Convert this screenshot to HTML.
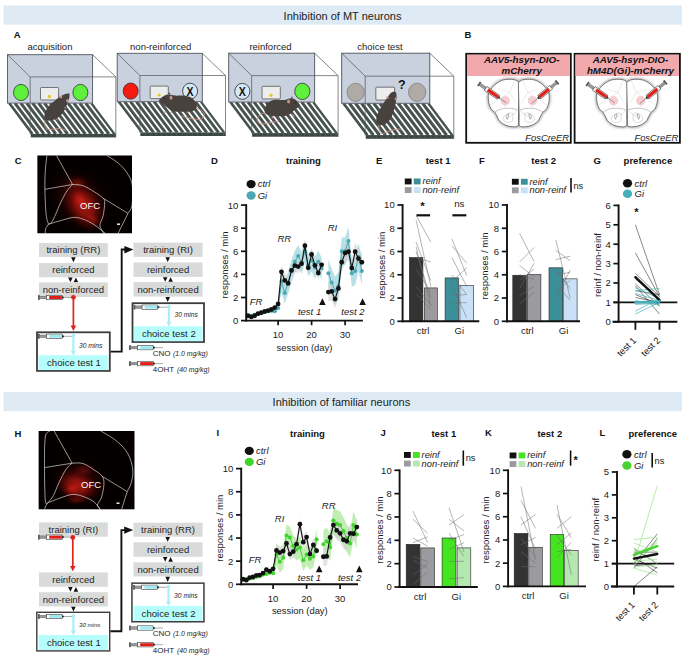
<!DOCTYPE html>
<html><head><meta charset="utf-8"><style>
html,body{margin:0;padding:0;background:#fff;}
svg{display:block;font-family:"Liberation Sans", sans-serif;}
</style></head><body>
<svg width="685" height="656" viewBox="0 0 685 656">
<rect x="0" y="0" width="685" height="656" fill="#fff"/>
<rect x="3.50" y="5.50" width="678.50" height="19.20" fill="#deebf5" stroke="none" stroke-width="1"/>
<text x="342.50" y="19.60" font-size="11" text-anchor="middle" fill="#222">Inhibition of MT neurons</text>
<rect x="3.50" y="392.00" width="678.50" height="19.20" fill="#deebf5" stroke="none" stroke-width="1"/>
<text x="341.40" y="405.80" font-size="11" text-anchor="middle" fill="#222">Inhibition of familiar neurons</text>
<text x="13.70" y="37.70" font-size="9.5" font-weight="bold" fill="#111">A</text>
<text x="464.40" y="37.80" font-size="9.5" font-weight="bold" fill="#111">B</text>
<text x="14.70" y="164.00" font-size="9.5" font-weight="bold" fill="#111">C</text>
<text x="211.10" y="164.10" font-size="9.5" font-weight="bold" fill="#111">D</text>
<text x="376.10" y="164.00" font-size="9.5" font-weight="bold" fill="#111">E</text>
<text x="478.90" y="164.00" font-size="9.5" font-weight="bold" fill="#111">F</text>
<text x="593.40" y="164.00" font-size="9.5" font-weight="bold" fill="#111">G</text>
<text x="14.60" y="436.60" font-size="9.5" font-weight="bold" fill="#111">H</text>
<text x="216.60" y="436.40" font-size="9.5" font-weight="bold" fill="#111">I</text>
<text x="380.60" y="436.40" font-size="9.5" font-weight="bold" fill="#111">J</text>
<text x="484.90" y="436.40" font-size="9.5" font-weight="bold" fill="#111">K</text>
<text x="599.60" y="436.40" font-size="9.5" font-weight="bold" fill="#111">L</text>
<text x="303.40" y="164.10" font-size="9.5" text-anchor="middle" font-weight="bold" fill="#111">training</text>
<text x="438.10" y="164.00" font-size="9.5" text-anchor="middle" font-weight="bold" fill="#111">test 1</text>
<text x="543.70" y="164.00" font-size="9.5" text-anchor="middle" font-weight="bold" fill="#111">test 2</text>
<text x="647.90" y="164.00" font-size="9.5" text-anchor="middle" font-weight="bold" fill="#111">preference</text>
<text x="307.50" y="436.70" font-size="9.5" text-anchor="middle" font-weight="bold" fill="#111">training</text>
<text x="443.80" y="436.70" font-size="9.5" text-anchor="middle" font-weight="bold" fill="#111">test 1</text>
<text x="549.80" y="436.70" font-size="9.5" text-anchor="middle" font-weight="bold" fill="#111">test 2</text>
<text x="652.80" y="436.70" font-size="9.5" text-anchor="middle" font-weight="bold" fill="#111">preference</text>
<g transform="translate(7.5,54.7) scale(1.0)"><clipPath id="fl7"><path d="M0,48.4 L85.1,48.4 L108.3,79.3 L23.2,79.3 Z"/></clipPath><g clip-path="url(#fl7)"><rect x="0" y="48" width="110" height="32" fill="#fff"/><path d="M-33.90,48.4 L-10.70,79.3 M-28.00,48.4 L-4.80,79.3 M-22.10,48.4 L1.10,79.3 M-16.20,48.4 L7.00,79.3 M-10.30,48.4 L12.90,79.3 M-4.40,48.4 L18.80,79.3 M1.50,48.4 L24.70,79.3 M7.40,48.4 L30.60,79.3 M13.30,48.4 L36.50,79.3 M19.20,48.4 L42.40,79.3 M25.10,48.4 L48.30,79.3 M31.00,48.4 L54.20,79.3 M36.90,48.4 L60.10,79.3 M42.80,48.4 L66.00,79.3 M48.70,48.4 L71.90,79.3 M54.60,48.4 L77.80,79.3 M60.50,48.4 L83.70,79.3 M66.40,48.4 L89.60,79.3 M72.30,48.4 L95.50,79.3 M78.20,48.4 L101.40,79.3 M84.10,48.4 L107.30,79.3 M90.00,48.4 L113.20,79.3 M95.90,48.4 L119.10,79.3 M101.80,48.4 L125.00,79.3 M107.70,48.4 L130.90,79.3 M113.60,48.4 L136.80,79.3 M119.50,48.4 L142.70,79.3 M125.40,48.4 L148.60,79.3" stroke="#47534f" stroke-width="3.0" fill="none"/></g><rect x="23.2" y="79.1" width="85.1" height="3.6" fill="#3a4642"/><path d="M28.40,79.3 v3.2 M33.60,79.3 v3.2 M38.80,79.3 v3.2 M44.00,79.3 v3.2 M49.20,79.3 v3.2 M54.40,79.3 v3.2 M59.60,79.3 v3.2 M64.80,79.3 v3.2 M70.00,79.3 v3.2 M75.20,79.3 v3.2 M80.40,79.3 v3.2 M85.60,79.3 v3.2 M90.80,79.3 v3.2 M96.00,79.3 v3.2 M101.20,79.3 v3.2 M106.40,79.3 v3.2" stroke="#5c6864" stroke-width="0.6"/><rect x="0" y="0" width="85.1" height="48.4" fill="#c9d0de" stroke="#50555f" stroke-width="0.9"/><path d="M0,0 L22.7,22.2 L108.3,22.2 M85.1,0 L108.3,22.2 L108.3,82.7 M22.7,22.2 L22.7,79.3" fill="none" stroke="#50555f" stroke-width="0.7"/><ellipse cx="13.5" cy="37.8" rx="7.5" ry="8.1" fill="#5ef03c" stroke="#2a3a2a" stroke-width="0.8"/><ellipse cx="72.9" cy="37.8" rx="7.5" ry="8.1" fill="#5ef03c" stroke="#2a3a2a" stroke-width="0.8"/><rect x="33" y="32.8" width="18.1" height="12.5" rx="0.8" fill="#ededed" stroke="#666" stroke-width="0.9"/><circle cx="41.9" cy="41.7" r="1.6" fill="#e6c51c"/></g>
<g transform="translate(117.2,53.3) scale(1.0)"><clipPath id="fl117"><path d="M0,48.4 L85.1,48.4 L108.3,79.3 L23.2,79.3 Z"/></clipPath><g clip-path="url(#fl117)"><rect x="0" y="48" width="110" height="32" fill="#fff"/><path d="M-33.90,48.4 L-10.70,79.3 M-28.00,48.4 L-4.80,79.3 M-22.10,48.4 L1.10,79.3 M-16.20,48.4 L7.00,79.3 M-10.30,48.4 L12.90,79.3 M-4.40,48.4 L18.80,79.3 M1.50,48.4 L24.70,79.3 M7.40,48.4 L30.60,79.3 M13.30,48.4 L36.50,79.3 M19.20,48.4 L42.40,79.3 M25.10,48.4 L48.30,79.3 M31.00,48.4 L54.20,79.3 M36.90,48.4 L60.10,79.3 M42.80,48.4 L66.00,79.3 M48.70,48.4 L71.90,79.3 M54.60,48.4 L77.80,79.3 M60.50,48.4 L83.70,79.3 M66.40,48.4 L89.60,79.3 M72.30,48.4 L95.50,79.3 M78.20,48.4 L101.40,79.3 M84.10,48.4 L107.30,79.3 M90.00,48.4 L113.20,79.3 M95.90,48.4 L119.10,79.3 M101.80,48.4 L125.00,79.3 M107.70,48.4 L130.90,79.3 M113.60,48.4 L136.80,79.3 M119.50,48.4 L142.70,79.3 M125.40,48.4 L148.60,79.3" stroke="#47534f" stroke-width="3.0" fill="none"/></g><rect x="23.2" y="79.1" width="85.1" height="3.6" fill="#3a4642"/><path d="M28.40,79.3 v3.2 M33.60,79.3 v3.2 M38.80,79.3 v3.2 M44.00,79.3 v3.2 M49.20,79.3 v3.2 M54.40,79.3 v3.2 M59.60,79.3 v3.2 M64.80,79.3 v3.2 M70.00,79.3 v3.2 M75.20,79.3 v3.2 M80.40,79.3 v3.2 M85.60,79.3 v3.2 M90.80,79.3 v3.2 M96.00,79.3 v3.2 M101.20,79.3 v3.2 M106.40,79.3 v3.2" stroke="#5c6864" stroke-width="0.6"/><rect x="0" y="0" width="85.1" height="48.4" fill="#c9d0de" stroke="#50555f" stroke-width="0.9"/><path d="M0,0 L22.7,22.2 L108.3,22.2 M85.1,0 L108.3,22.2 L108.3,82.7 M22.7,22.2 L22.7,79.3" fill="none" stroke="#50555f" stroke-width="0.7"/><ellipse cx="13.5" cy="37.8" rx="7.5" ry="8.1" fill="#f41c10" stroke="#3a2a2a" stroke-width="0.8"/><ellipse cx="72.9" cy="37.8" rx="7.5" ry="7.8999999999999995" fill="#d6e9f8" stroke="#2a2a2a" stroke-width="0.8"/><text x="0" y="0" font-size="13.5" font-weight="bold" text-anchor="middle" fill="#111" transform="translate(72.9,42.699999999999996) scale(0.78,1)">X</text><rect x="33" y="32.8" width="18.1" height="12.5" rx="0.8" fill="#ededed" stroke="#666" stroke-width="0.9"/><circle cx="41.9" cy="41.7" r="1.6" fill="#e6c51c"/></g>
<g transform="translate(228.7,53.2) scale(1.01)"><clipPath id="fl228"><path d="M0,48.4 L85.1,48.4 L108.3,79.3 L23.2,79.3 Z"/></clipPath><g clip-path="url(#fl228)"><rect x="0" y="48" width="110" height="32" fill="#fff"/><path d="M-33.90,48.4 L-10.70,79.3 M-28.00,48.4 L-4.80,79.3 M-22.10,48.4 L1.10,79.3 M-16.20,48.4 L7.00,79.3 M-10.30,48.4 L12.90,79.3 M-4.40,48.4 L18.80,79.3 M1.50,48.4 L24.70,79.3 M7.40,48.4 L30.60,79.3 M13.30,48.4 L36.50,79.3 M19.20,48.4 L42.40,79.3 M25.10,48.4 L48.30,79.3 M31.00,48.4 L54.20,79.3 M36.90,48.4 L60.10,79.3 M42.80,48.4 L66.00,79.3 M48.70,48.4 L71.90,79.3 M54.60,48.4 L77.80,79.3 M60.50,48.4 L83.70,79.3 M66.40,48.4 L89.60,79.3 M72.30,48.4 L95.50,79.3 M78.20,48.4 L101.40,79.3 M84.10,48.4 L107.30,79.3 M90.00,48.4 L113.20,79.3 M95.90,48.4 L119.10,79.3 M101.80,48.4 L125.00,79.3 M107.70,48.4 L130.90,79.3 M113.60,48.4 L136.80,79.3 M119.50,48.4 L142.70,79.3 M125.40,48.4 L148.60,79.3" stroke="#47534f" stroke-width="3.0" fill="none"/></g><rect x="23.2" y="79.1" width="85.1" height="3.6" fill="#3a4642"/><path d="M28.40,79.3 v3.2 M33.60,79.3 v3.2 M38.80,79.3 v3.2 M44.00,79.3 v3.2 M49.20,79.3 v3.2 M54.40,79.3 v3.2 M59.60,79.3 v3.2 M64.80,79.3 v3.2 M70.00,79.3 v3.2 M75.20,79.3 v3.2 M80.40,79.3 v3.2 M85.60,79.3 v3.2 M90.80,79.3 v3.2 M96.00,79.3 v3.2 M101.20,79.3 v3.2 M106.40,79.3 v3.2" stroke="#5c6864" stroke-width="0.6"/><rect x="0" y="0" width="85.1" height="48.4" fill="#c9d0de" stroke="#50555f" stroke-width="0.9"/><path d="M0,0 L22.7,22.2 L108.3,22.2 M85.1,0 L108.3,22.2 L108.3,82.7 M22.7,22.2 L22.7,79.3" fill="none" stroke="#50555f" stroke-width="0.7"/><ellipse cx="13.5" cy="37.8" rx="7.5" ry="7.8999999999999995" fill="#d6e9f8" stroke="#2a2a2a" stroke-width="0.8"/><text x="0" y="0" font-size="13.5" font-weight="bold" text-anchor="middle" fill="#111" transform="translate(13.5,42.699999999999996) scale(0.78,1)">X</text><ellipse cx="72.9" cy="37.8" rx="7.5" ry="8.1" fill="#5ef03c" stroke="#2a3a2a" stroke-width="0.8"/><rect x="33" y="32.8" width="18.1" height="12.5" rx="0.8" fill="#ededed" stroke="#666" stroke-width="0.9"/><circle cx="41.9" cy="41.7" r="1.6" fill="#e6c51c"/></g>
<g transform="translate(341.7,53.2) scale(1.035)"><clipPath id="fl341"><path d="M0,48.4 L85.1,48.4 L108.3,79.3 L23.2,79.3 Z"/></clipPath><g clip-path="url(#fl341)"><rect x="0" y="48" width="110" height="32" fill="#fff"/><path d="M-33.90,48.4 L-10.70,79.3 M-28.00,48.4 L-4.80,79.3 M-22.10,48.4 L1.10,79.3 M-16.20,48.4 L7.00,79.3 M-10.30,48.4 L12.90,79.3 M-4.40,48.4 L18.80,79.3 M1.50,48.4 L24.70,79.3 M7.40,48.4 L30.60,79.3 M13.30,48.4 L36.50,79.3 M19.20,48.4 L42.40,79.3 M25.10,48.4 L48.30,79.3 M31.00,48.4 L54.20,79.3 M36.90,48.4 L60.10,79.3 M42.80,48.4 L66.00,79.3 M48.70,48.4 L71.90,79.3 M54.60,48.4 L77.80,79.3 M60.50,48.4 L83.70,79.3 M66.40,48.4 L89.60,79.3 M72.30,48.4 L95.50,79.3 M78.20,48.4 L101.40,79.3 M84.10,48.4 L107.30,79.3 M90.00,48.4 L113.20,79.3 M95.90,48.4 L119.10,79.3 M101.80,48.4 L125.00,79.3 M107.70,48.4 L130.90,79.3 M113.60,48.4 L136.80,79.3 M119.50,48.4 L142.70,79.3 M125.40,48.4 L148.60,79.3" stroke="#47534f" stroke-width="3.0" fill="none"/></g><rect x="23.2" y="79.1" width="85.1" height="3.6" fill="#3a4642"/><path d="M28.40,79.3 v3.2 M33.60,79.3 v3.2 M38.80,79.3 v3.2 M44.00,79.3 v3.2 M49.20,79.3 v3.2 M54.40,79.3 v3.2 M59.60,79.3 v3.2 M64.80,79.3 v3.2 M70.00,79.3 v3.2 M75.20,79.3 v3.2 M80.40,79.3 v3.2 M85.60,79.3 v3.2 M90.80,79.3 v3.2 M96.00,79.3 v3.2 M101.20,79.3 v3.2 M106.40,79.3 v3.2" stroke="#5c6864" stroke-width="0.6"/><rect x="0" y="0" width="85.1" height="48.4" fill="#c9d0de" stroke="#50555f" stroke-width="0.9"/><path d="M0,0 L22.7,22.2 L108.3,22.2 M85.1,0 L108.3,22.2 L108.3,82.7 M22.7,22.2 L22.7,79.3" fill="none" stroke="#50555f" stroke-width="0.7"/><ellipse cx="13.5" cy="37.8" rx="8.4" ry="8.8" fill="#b0aaa6" stroke="#7f7a77" stroke-width="0.7"/><ellipse cx="72.9" cy="37.8" rx="8.4" ry="8.8" fill="#b0aaa6" stroke="#7f7a77" stroke-width="0.7"/><rect x="33" y="32.8" width="18.1" height="12.5" rx="0.8" fill="#ededed" stroke="#666" stroke-width="0.9"/></g>
<path d="M44.80,120.30 C44.85,121.32 44.75,124.92 45.10,126.40 C45.45,127.88 45.47,128.73 46.90,129.20 C48.33,129.67 51.42,129.32 53.70,129.20 C55.98,129.08 58.53,128.27 60.60,128.50 C62.67,128.73 65.18,130.25 66.10,130.60 " fill="none" stroke="#c99088" stroke-width="0.9"/><path d="M69.50,93.50 C68.93,93.55 67.58,93.35 66.10,93.80 C64.62,94.25 62.43,95.10 60.60,96.20 C58.77,97.30 56.82,99.02 55.10,100.40 C53.38,101.78 51.78,102.90 50.30,104.50 C48.82,106.10 47.17,108.28 46.20,110.00 C45.23,111.72 44.73,113.32 44.50,114.80 C44.27,116.28 44.40,117.93 44.80,118.90 C45.20,119.87 45.75,120.37 46.90,120.60 C48.05,120.83 49.98,120.70 51.70,120.30 C53.42,119.90 55.48,119.23 57.20,118.20 C58.92,117.17 60.63,115.70 62.00,114.10 C63.37,112.50 64.48,110.43 65.40,108.60 C66.32,106.77 66.87,104.82 67.50,103.10 C68.13,101.38 68.87,99.90 69.20,98.30 C69.53,96.70 69.45,94.30 69.50,93.50 Z" fill="#48423f"/><ellipse cx="60.8" cy="97" rx="1.5" ry="1.2" fill="#c99088"/><ellipse cx="67.3" cy="100.6" rx="1.2" ry="1.6" fill="#c99088"/><path d="M56,118.5 l1.5,1.8 M64.5,107.5 l1.8,0.6" stroke="#c99088" stroke-width="1"/><path d="M196.00,107.50 C197.20,108.27 201.87,110.67 203.20,112.10 C204.53,113.53 204.53,114.90 204.00,116.10 C203.47,117.30 202.15,118.90 200.00,119.30 C197.85,119.70 194.32,119.03 191.10,118.50 C187.88,117.97 182.43,116.50 180.70,116.10 " fill="none" stroke="#c99088" stroke-width="0.9"/><path d="M166,111 l-2.5,2.5 M172,111.5 l-1.5,2 M187,111.5 l2,2.2" stroke="#c99088" stroke-width="1.1"/><path d="M159.00,100.00 C159.67,99.40 161.50,97.32 163.00,96.40 C164.50,95.48 165.98,94.63 168.00,94.50 C170.02,94.37 172.58,95.42 175.10,95.60 C177.62,95.78 180.43,95.27 183.10,95.60 C185.77,95.93 189.08,96.58 191.10,97.60 C193.12,98.62 194.25,100.35 195.20,101.70 C196.15,103.05 196.80,104.37 196.80,105.70 C196.80,107.03 196.55,108.70 195.20,109.70 C193.85,110.70 191.38,111.37 188.70,111.70 C186.02,112.03 181.77,111.77 179.10,111.70 C176.43,111.63 174.57,111.90 172.70,111.30 C170.83,110.70 169.52,109.30 167.90,108.10 C166.28,106.90 164.48,105.30 163.00,104.10 C161.52,102.90 159.67,101.58 159.00,100.90 C158.33,100.22 159.00,100.15 159.00,100.00 Z" fill="#48423f"/><path d="M168,93.2 l1.8,-0.8 l0.6,2.5 Z" fill="#48423f"/><ellipse cx="171" cy="97.8" rx="1.5" ry="2" fill="#c99088"/><circle cx="164.6" cy="98.4" r="0.6" fill="#111"/><path d="M264.50,112.40 C263.65,112.90 260.62,114.05 259.40,115.40 C258.18,116.75 256.97,119.05 257.20,120.50 C257.43,121.95 258.73,123.73 260.80,124.10 C262.87,124.47 266.55,123.18 269.60,122.70 C272.65,122.22 277.52,121.45 279.10,121.20 " fill="none" stroke="#c99088" stroke-width="0.9"/><path d="M273,116 l-1,2.5 M292,114 l2.5,3" stroke="#c99088" stroke-width="1.1"/><path d="M299.90,105.10 C299.23,104.25 297.42,101.15 295.90,100.00 C294.38,98.85 292.75,98.20 290.80,98.20 C288.85,98.20 286.52,99.75 284.20,100.00 C281.88,100.25 279.08,99.57 276.90,99.70 C274.72,99.83 272.80,100.02 271.10,100.80 C269.40,101.58 267.80,102.95 266.70,104.40 C265.60,105.85 264.62,107.92 264.50,109.50 C264.38,111.08 264.55,112.80 266.00,113.90 C267.45,115.00 270.17,115.73 273.20,116.10 C276.23,116.47 281.40,116.47 284.20,116.10 C287.00,115.73 288.05,115.12 290.00,113.90 C291.95,112.68 294.25,110.13 295.90,108.80 C297.55,107.47 299.23,106.52 299.90,105.90 C300.57,105.28 299.90,105.23 299.90,105.10 Z" fill="#48423f"/><path d="M290.8,97 l1.5,-0.5 l0.5,2.4 Z" fill="#48423f"/><ellipse cx="288.6" cy="101.5" rx="1.5" ry="2" fill="#c99088"/><circle cx="295" cy="102.8" r="0.6" fill="#111"/><path d="M378.70,124.90 C378.78,125.73 378.67,128.45 379.20,129.90 C379.73,131.35 380.08,133.45 381.90,133.60 C383.72,133.75 387.50,131.57 390.10,130.80 C392.70,130.03 395.52,129.15 397.50,129.00 C399.48,128.85 401.25,129.75 402.00,129.90 " fill="none" stroke="#c99088" stroke-width="0.9"/><path d="M394.30,91.50 C393.77,91.72 392.25,91.82 391.10,92.80 C389.95,93.78 388.78,95.48 387.40,97.40 C386.02,99.32 384.25,101.93 382.80,104.30 C381.35,106.67 379.77,109.32 378.70,111.60 C377.63,113.88 376.70,116.02 376.40,118.00 C376.10,119.98 376.28,122.28 376.90,123.50 C377.52,124.72 378.82,125.15 380.10,125.30 C381.38,125.45 383.08,125.15 384.60,124.40 C386.12,123.65 387.82,122.63 389.20,120.80 C390.58,118.97 391.90,116.00 392.90,113.40 C393.90,110.80 394.60,107.78 395.20,105.20 C395.80,102.62 396.35,99.97 396.50,97.90 C396.65,95.83 396.47,93.87 396.10,92.80 C395.73,91.73 394.60,91.72 394.30,91.50 Z" fill="#48423f"/><ellipse cx="387.6" cy="97.6" rx="1.3" ry="1.2" fill="#c99088"/><ellipse cx="395.6" cy="99" rx="1" ry="1.4" fill="#c99088"/><text x="398" y="89.2" font-size="12.5" font-weight="bold" fill="#111">?</text>
<text x="50.00" y="49.50" font-size="9.5" text-anchor="middle" fill="#222">acquisition</text>
<text x="160.70" y="49.50" font-size="9.5" text-anchor="middle" fill="#222">non-reinforced</text>
<text x="270.50" y="49.50" font-size="9.5" text-anchor="middle" fill="#222">reinforced</text>
<text x="380.00" y="49.50" font-size="9.5" text-anchor="middle" fill="#222">choice test</text>
<rect x="466.20" y="53.80" width="104.60" height="89.00" fill="#fff" stroke="#111" stroke-width="1.8"/>
<rect x="467.10" y="54.70" width="102.80" height="21.30" fill="#f1a9ad" stroke="none" stroke-width="1"/>
<text x="521.70" y="62.80" font-size="9.8" text-anchor="middle" font-weight="bold" font-style="italic" fill="#111">AAV5-hsyn-DIO-</text>
<text x="521.70" y="73.60" font-size="9.8" text-anchor="middle" font-weight="bold" font-style="italic" fill="#111">mCherry</text>
<path d="M519.20,82.60 C518.47,82.13 516.65,80.35 514.80,79.80 C512.95,79.25 510.43,79.13 508.10,79.30 C505.77,79.47 503.18,79.72 500.80,80.80 C498.42,81.88 495.77,83.85 493.80,85.80 C491.83,87.75 489.92,90.42 489.00,92.50 C488.08,94.58 488.28,96.37 488.30,98.30 C488.32,100.23 488.60,102.27 489.10,104.10 C489.60,105.93 490.35,107.93 491.30,109.30 C492.25,110.67 493.80,111.05 494.80,112.30 C495.80,113.55 496.47,115.30 497.30,116.80 C498.13,118.30 498.38,119.88 499.80,121.30 C501.22,122.72 503.63,124.38 505.80,125.30 C507.97,126.22 510.77,126.72 512.80,126.80 C514.83,126.88 517.07,127.05 518.00,125.80 C518.93,124.55 518.33,120.38 518.40,119.30 Z" fill="none" stroke="#999" stroke-width="3" filter="url(#blur1)" opacity="0.7"/><path d="M518.40,82.60 C519.13,82.13 520.95,80.35 522.80,79.80 C524.65,79.25 527.17,79.13 529.50,79.30 C531.83,79.47 534.42,79.72 536.80,80.80 C539.18,81.88 541.83,83.85 543.80,85.80 C545.77,87.75 547.68,90.42 548.60,92.50 C549.52,94.58 549.32,96.37 549.30,98.30 C549.28,100.23 549.00,102.27 548.50,104.10 C548.00,105.93 547.25,107.93 546.30,109.30 C545.35,110.67 543.80,111.05 542.80,112.30 C541.80,113.55 541.13,115.30 540.30,116.80 C539.47,118.30 539.22,119.88 537.80,121.30 C536.38,122.72 533.97,124.38 531.80,125.30 C529.63,126.22 526.83,126.72 524.80,126.80 C522.77,126.88 520.53,127.05 519.60,125.80 C518.67,124.55 519.27,120.38 519.20,119.30 Z" fill="none" stroke="#999" stroke-width="3" filter="url(#blur1)" opacity="0.7"/><path d="M519.20,82.60 C518.47,82.13 516.65,80.35 514.80,79.80 C512.95,79.25 510.43,79.13 508.10,79.30 C505.77,79.47 503.18,79.72 500.80,80.80 C498.42,81.88 495.77,83.85 493.80,85.80 C491.83,87.75 489.92,90.42 489.00,92.50 C488.08,94.58 488.28,96.37 488.30,98.30 C488.32,100.23 488.60,102.27 489.10,104.10 C489.60,105.93 490.35,107.93 491.30,109.30 C492.25,110.67 493.80,111.05 494.80,112.30 C495.80,113.55 496.47,115.30 497.30,116.80 C498.13,118.30 498.38,119.88 499.80,121.30 C501.22,122.72 503.63,124.38 505.80,125.30 C507.97,126.22 510.77,126.72 512.80,126.80 C514.83,126.88 517.07,127.05 518.00,125.80 C518.93,124.55 518.33,120.38 518.40,119.30 Z" fill="#fff" stroke="#5a5a5a" stroke-width="0.8"/><path d="M517.30,109.80 C510.80,107.30 500.80,107.30 494.80,112.30" fill="none" stroke="#888" stroke-width="0.5"/><path d="M517.30,109.80 C515.80,113.30 512.80,115.30 506.80,117.30" fill="none" stroke="#bbb" stroke-width="0.4"/><path d="M514.80,80.30 L509.80,92.30 L515.80,103.30 M509.80,92.30 L498.80,89.30 M509.80,92.30 L494.80,102.30 M504.80,107.30 L506.80,99.30 M494.80,102.30 L489.80,105.30" fill="none" stroke="#ccc" stroke-width="0.4"/><path d="M512.80,113.30 C508.80,112.30 503.80,114.30 502.80,119.30 C504.80,123.30 510.80,123.30 512.80,120.30 Z" fill="none" stroke="#aaa" stroke-width="0.4"/><path d="M508.80,113.80 C505.80,114.30 505.80,117.30 507.30,119.30 L508.30,116.30 Z" fill="#fff" stroke="#666" stroke-width="0.5"/><circle cx="505.20" cy="100.80" r="4.7" fill="#f4c4c8" opacity="0.85"/><path d="M518.40,82.60 C519.13,82.13 520.95,80.35 522.80,79.80 C524.65,79.25 527.17,79.13 529.50,79.30 C531.83,79.47 534.42,79.72 536.80,80.80 C539.18,81.88 541.83,83.85 543.80,85.80 C545.77,87.75 547.68,90.42 548.60,92.50 C549.52,94.58 549.32,96.37 549.30,98.30 C549.28,100.23 549.00,102.27 548.50,104.10 C548.00,105.93 547.25,107.93 546.30,109.30 C545.35,110.67 543.80,111.05 542.80,112.30 C541.80,113.55 541.13,115.30 540.30,116.80 C539.47,118.30 539.22,119.88 537.80,121.30 C536.38,122.72 533.97,124.38 531.80,125.30 C529.63,126.22 526.83,126.72 524.80,126.80 C522.77,126.88 520.53,127.05 519.60,125.80 C518.67,124.55 519.27,120.38 519.20,119.30 Z" fill="#fff" stroke="#5a5a5a" stroke-width="0.8"/><path d="M520.30,109.80 C526.80,107.30 536.80,107.30 542.80,112.30" fill="none" stroke="#888" stroke-width="0.5"/><path d="M520.30,109.80 C521.80,113.30 524.80,115.30 530.80,117.30" fill="none" stroke="#bbb" stroke-width="0.4"/><path d="M522.80,80.30 L527.80,92.30 L521.80,103.30 M527.80,92.30 L538.80,89.30 M527.80,92.30 L542.80,102.30 M532.80,107.30 L530.80,99.30 M542.80,102.30 L547.80,105.30" fill="none" stroke="#ccc" stroke-width="0.4"/><path d="M524.80,113.30 C528.80,112.30 533.80,114.30 534.80,119.30 C532.80,123.30 526.80,123.30 524.80,120.30 Z" fill="none" stroke="#aaa" stroke-width="0.4"/><path d="M528.80,113.80 C531.80,114.30 531.80,117.30 530.30,119.30 L529.30,116.30 Z" fill="#fff" stroke="#666" stroke-width="0.5"/><circle cx="532.40" cy="100.80" r="4.7" fill="#f4c4c8" opacity="0.85"/>
<g transform="translate(478.50,83.50) rotate(34.80) scale(1.0)"><rect x="0" y="-2.52" width="1.8" height="5.04" fill="#5a5a5a"/><rect x="1.8" y="-1.37" width="6.8" height="2.73" fill="#9a9a9a" stroke="#555" stroke-width="0.4"/><rect x="8.6" y="-2.31" width="15.4" height="4.62" fill="#fff" stroke="#3a3a3a" stroke-width="0.6"/><rect x="11.2" y="-1.58" width="12.6" height="3.15" fill="#e01e17"/><path d="M24,-1.68 L26,-0.63 L26,0.63 L24,1.68 Z" fill="#3a3a3a"/><line x1="26" y1="0" x2="34" y2="0" stroke="#555" stroke-width="0.5"/></g>
<g transform="translate(557.70,81.80) rotate(140.30) scale(1.0)"><rect x="0" y="-2.52" width="1.8" height="5.04" fill="#5a5a5a"/><rect x="1.8" y="-1.37" width="6.8" height="2.73" fill="#9a9a9a" stroke="#555" stroke-width="0.4"/><rect x="8.6" y="-2.31" width="15.4" height="4.62" fill="#fff" stroke="#3a3a3a" stroke-width="0.6"/><rect x="11.2" y="-1.58" width="12.6" height="3.15" fill="#e01e17"/><path d="M24,-1.68 L26,-0.63 L26,0.63 L24,1.68 Z" fill="#3a3a3a"/><line x1="26" y1="0" x2="34" y2="0" stroke="#555" stroke-width="0.5"/></g>
<text x="569.10" y="140.50" font-size="9.4" text-anchor="end" font-style="italic" fill="#222">FosCreER</text>
<rect x="574.60" y="53.80" width="105.30" height="89.00" fill="#fff" stroke="#111" stroke-width="1.8"/>
<rect x="575.50" y="54.70" width="103.50" height="21.30" fill="#f1a9ad" stroke="none" stroke-width="1"/>
<text x="630.45" y="62.80" font-size="9.8" text-anchor="middle" font-weight="bold" font-style="italic" fill="#111">AAV5-hsyn-DIO-</text>
<text x="630.45" y="73.60" font-size="9.8" text-anchor="middle" font-weight="bold" font-style="italic" fill="#111">hM4D(Gi)-mCherry</text>
<path d="M627.50,82.60 C626.77,82.13 624.95,80.35 623.10,79.80 C621.25,79.25 618.73,79.13 616.40,79.30 C614.07,79.47 611.48,79.72 609.10,80.80 C606.72,81.88 604.07,83.85 602.10,85.80 C600.13,87.75 598.22,90.42 597.30,92.50 C596.38,94.58 596.58,96.37 596.60,98.30 C596.62,100.23 596.90,102.27 597.40,104.10 C597.90,105.93 598.65,107.93 599.60,109.30 C600.55,110.67 602.10,111.05 603.10,112.30 C604.10,113.55 604.77,115.30 605.60,116.80 C606.43,118.30 606.68,119.88 608.10,121.30 C609.52,122.72 611.93,124.38 614.10,125.30 C616.27,126.22 619.07,126.72 621.10,126.80 C623.13,126.88 625.37,127.05 626.30,125.80 C627.23,124.55 626.63,120.38 626.70,119.30 Z" fill="none" stroke="#999" stroke-width="3" filter="url(#blur1)" opacity="0.7"/><path d="M626.70,82.60 C627.43,82.13 629.25,80.35 631.10,79.80 C632.95,79.25 635.47,79.13 637.80,79.30 C640.13,79.47 642.72,79.72 645.10,80.80 C647.48,81.88 650.13,83.85 652.10,85.80 C654.07,87.75 655.98,90.42 656.90,92.50 C657.82,94.58 657.62,96.37 657.60,98.30 C657.58,100.23 657.30,102.27 656.80,104.10 C656.30,105.93 655.55,107.93 654.60,109.30 C653.65,110.67 652.10,111.05 651.10,112.30 C650.10,113.55 649.43,115.30 648.60,116.80 C647.77,118.30 647.52,119.88 646.10,121.30 C644.68,122.72 642.27,124.38 640.10,125.30 C637.93,126.22 635.13,126.72 633.10,126.80 C631.07,126.88 628.83,127.05 627.90,125.80 C626.97,124.55 627.57,120.38 627.50,119.30 Z" fill="none" stroke="#999" stroke-width="3" filter="url(#blur1)" opacity="0.7"/><path d="M627.50,82.60 C626.77,82.13 624.95,80.35 623.10,79.80 C621.25,79.25 618.73,79.13 616.40,79.30 C614.07,79.47 611.48,79.72 609.10,80.80 C606.72,81.88 604.07,83.85 602.10,85.80 C600.13,87.75 598.22,90.42 597.30,92.50 C596.38,94.58 596.58,96.37 596.60,98.30 C596.62,100.23 596.90,102.27 597.40,104.10 C597.90,105.93 598.65,107.93 599.60,109.30 C600.55,110.67 602.10,111.05 603.10,112.30 C604.10,113.55 604.77,115.30 605.60,116.80 C606.43,118.30 606.68,119.88 608.10,121.30 C609.52,122.72 611.93,124.38 614.10,125.30 C616.27,126.22 619.07,126.72 621.10,126.80 C623.13,126.88 625.37,127.05 626.30,125.80 C627.23,124.55 626.63,120.38 626.70,119.30 Z" fill="#fff" stroke="#5a5a5a" stroke-width="0.8"/><path d="M625.60,109.80 C619.10,107.30 609.10,107.30 603.10,112.30" fill="none" stroke="#888" stroke-width="0.5"/><path d="M625.60,109.80 C624.10,113.30 621.10,115.30 615.10,117.30" fill="none" stroke="#bbb" stroke-width="0.4"/><path d="M623.10,80.30 L618.10,92.30 L624.10,103.30 M618.10,92.30 L607.10,89.30 M618.10,92.30 L603.10,102.30 M613.10,107.30 L615.10,99.30 M603.10,102.30 L598.10,105.30" fill="none" stroke="#ccc" stroke-width="0.4"/><path d="M621.10,113.30 C617.10,112.30 612.10,114.30 611.10,119.30 C613.10,123.30 619.10,123.30 621.10,120.30 Z" fill="none" stroke="#aaa" stroke-width="0.4"/><path d="M617.10,113.80 C614.10,114.30 614.10,117.30 615.60,119.30 L616.60,116.30 Z" fill="#fff" stroke="#666" stroke-width="0.5"/><circle cx="613.50" cy="100.80" r="4.7" fill="#f4c4c8" opacity="0.85"/><path d="M626.70,82.60 C627.43,82.13 629.25,80.35 631.10,79.80 C632.95,79.25 635.47,79.13 637.80,79.30 C640.13,79.47 642.72,79.72 645.10,80.80 C647.48,81.88 650.13,83.85 652.10,85.80 C654.07,87.75 655.98,90.42 656.90,92.50 C657.82,94.58 657.62,96.37 657.60,98.30 C657.58,100.23 657.30,102.27 656.80,104.10 C656.30,105.93 655.55,107.93 654.60,109.30 C653.65,110.67 652.10,111.05 651.10,112.30 C650.10,113.55 649.43,115.30 648.60,116.80 C647.77,118.30 647.52,119.88 646.10,121.30 C644.68,122.72 642.27,124.38 640.10,125.30 C637.93,126.22 635.13,126.72 633.10,126.80 C631.07,126.88 628.83,127.05 627.90,125.80 C626.97,124.55 627.57,120.38 627.50,119.30 Z" fill="#fff" stroke="#5a5a5a" stroke-width="0.8"/><path d="M628.60,109.80 C635.10,107.30 645.10,107.30 651.10,112.30" fill="none" stroke="#888" stroke-width="0.5"/><path d="M628.60,109.80 C630.10,113.30 633.10,115.30 639.10,117.30" fill="none" stroke="#bbb" stroke-width="0.4"/><path d="M631.10,80.30 L636.10,92.30 L630.10,103.30 M636.10,92.30 L647.10,89.30 M636.10,92.30 L651.10,102.30 M641.10,107.30 L639.10,99.30 M651.10,102.30 L656.10,105.30" fill="none" stroke="#ccc" stroke-width="0.4"/><path d="M633.10,113.30 C637.10,112.30 642.10,114.30 643.10,119.30 C641.10,123.30 635.10,123.30 633.10,120.30 Z" fill="none" stroke="#aaa" stroke-width="0.4"/><path d="M637.10,113.80 C640.10,114.30 640.10,117.30 638.60,119.30 L637.60,116.30 Z" fill="#fff" stroke="#666" stroke-width="0.5"/><circle cx="640.70" cy="100.80" r="4.7" fill="#f4c4c8" opacity="0.85"/>
<g transform="translate(586.80,83.50) rotate(34.80) scale(1.0)"><rect x="0" y="-2.52" width="1.8" height="5.04" fill="#5a5a5a"/><rect x="1.8" y="-1.37" width="6.8" height="2.73" fill="#9a9a9a" stroke="#555" stroke-width="0.4"/><rect x="8.6" y="-2.31" width="15.4" height="4.62" fill="#fff" stroke="#3a3a3a" stroke-width="0.6"/><rect x="11.2" y="-1.58" width="12.6" height="3.15" fill="#e01e17"/><path d="M24,-1.68 L26,-0.63 L26,0.63 L24,1.68 Z" fill="#3a3a3a"/><line x1="26" y1="0" x2="34" y2="0" stroke="#555" stroke-width="0.5"/></g>
<g transform="translate(666.00,81.80) rotate(140.30) scale(1.0)"><rect x="0" y="-2.52" width="1.8" height="5.04" fill="#5a5a5a"/><rect x="1.8" y="-1.37" width="6.8" height="2.73" fill="#9a9a9a" stroke="#555" stroke-width="0.4"/><rect x="8.6" y="-2.31" width="15.4" height="4.62" fill="#fff" stroke="#3a3a3a" stroke-width="0.6"/><rect x="11.2" y="-1.58" width="12.6" height="3.15" fill="#e01e17"/><path d="M24,-1.68 L26,-0.63 L26,0.63 L24,1.68 Z" fill="#3a3a3a"/><line x1="26" y1="0" x2="34" y2="0" stroke="#555" stroke-width="0.5"/></g>
<text x="678.20" y="140.50" font-size="9.4" text-anchor="end" font-style="italic" fill="#222">FosCreER</text>
<defs><filter id="blur1" x="-20%" y="-20%" width="140%" height="140%"><feGaussianBlur stdDeviation="1.3"/></filter><radialGradient id="rg"><stop offset="0" stop-color="#e8261a" stop-opacity="0.9"/><stop offset="0.4" stop-color="#c41a10" stop-opacity="0.7"/><stop offset="0.75" stop-color="#7a0804" stop-opacity="0.35"/><stop offset="1" stop-color="#300000" stop-opacity="0"/></radialGradient></defs>
<clipPath id="clipC"><rect x="37.2" y="155.3" width="94.8" height="78.19999999999999"/></clipPath>
<g clip-path="url(#clipC)">
<rect x="37.20" y="155.30" width="94.80" height="78.20" fill="#050000" stroke="none" stroke-width="1"/>
<ellipse cx="80" cy="200" rx="36" ry="28" fill="url(#rg)" opacity="0.3" transform="rotate(50 80 200)"/>
<ellipse cx="84" cy="206" rx="29" ry="19" fill="url(#rg)" opacity="0.8" transform="rotate(59 84 206)"/>
<ellipse cx="80" cy="200" rx="15" ry="10" fill="url(#rg)" opacity="0.5" transform="rotate(59 80 200)"/>
<ellipse cx="77" cy="183" rx="12" ry="8" fill="url(#rg)" opacity="0.35" transform="rotate(0 77 183)"/>
<ellipse cx="92" cy="219" rx="11" ry="7" fill="url(#rg)" opacity="0.4" transform="rotate(40 92 219)"/>
<path d="M46.90,155.60 C46.63,158.15 45.63,165.28 45.30,170.90 C44.97,176.52 44.77,182.08 44.90,189.30 C45.03,196.52 45.50,208.38 46.10,214.20 C46.70,220.02 48.10,222.53 48.50,224.20 " fill="none" stroke="#e8e8e8" stroke-width="0.65"/>
<path d="M56.50,155.60 C59.18,160.42 69.92,179.68 72.60,184.50 " fill="none" stroke="#e8e8e8" stroke-width="0.65"/>
<path d="M44.90,189.30 C49.52,188.50 67.98,185.30 72.60,184.50 " fill="none" stroke="#e8e8e8" stroke-width="0.65"/>
<path d="M72.60,184.50 C74.33,184.70 79.40,184.48 83.00,185.70 C86.60,186.92 90.85,189.72 94.20,191.80 C97.55,193.88 101.35,196.33 103.10,198.20 C104.85,200.07 104.70,200.07 104.70,203.00 C104.70,205.93 103.90,212.05 103.10,215.80 C102.30,219.55 99.77,222.55 99.90,225.50 C100.03,228.45 103.23,232.17 103.90,233.50 " fill="none" stroke="#e8e8e8" stroke-width="0.65"/>
<path d="M72.60,184.50 C71.65,185.58 68.92,187.92 66.90,191.00 C64.88,194.08 62.37,199.13 60.50,203.00 C58.63,206.87 57.17,210.98 55.70,214.20 C54.23,217.42 52.90,220.63 51.70,222.30 C50.50,223.97 49.03,223.88 48.50,224.20 " fill="none" stroke="#e8e8e8" stroke-width="0.65"/>
<path d="M48.50,224.20 C50.50,223.62 56.35,221.83 60.50,220.70 C64.65,219.57 69.65,217.67 73.40,217.40 C77.15,217.13 79.53,217.88 83.00,219.10 C86.47,220.32 90.45,222.30 94.20,224.70 C97.95,227.10 103.62,232.03 105.50,233.50 " fill="none" stroke="#e8e8e8" stroke-width="0.65"/>
<path d="M103.10,198.20 C107.25,200.73 123.85,210.87 128.00,213.40 " fill="none" stroke="#e8e8e8" stroke-width="0.65"/>
<path d="M128.00,213.40 C126.33,216.75 119.67,230.15 118.00,233.50 " fill="none" stroke="#e8e8e8" stroke-width="0.65"/>
<path d="M107.10,155.60 C109.23,157.08 116.28,161.15 119.90,164.50 C123.52,167.85 126.70,171.95 128.80,175.70 C130.90,179.45 131.97,182.05 132.50,187.00 C133.03,191.95 132.75,201.00 132.00,205.40 C131.25,209.80 128.67,212.07 128.00,213.40 " fill="none" stroke="#e8e8e8" stroke-width="0.65"/>
<path d="M48.50,224.20 C48.03,224.95 46.23,227.15 45.70,228.70 C45.17,230.25 45.37,232.70 45.30,233.50 " fill="none" stroke="#e8e8e8" stroke-width="0.65"/>
</g>
<text x="80.10" y="209.40" font-size="9.5" fill="#fff">OFC</text>
<rect x="117.00" y="223.50" width="3.00" height="1.40" fill="#fff" stroke="none" stroke-width="1"/>
<clipPath id="clipH"><rect x="38.4" y="430.9" width="96.29999999999998" height="78.70000000000005"/></clipPath>
<g clip-path="url(#clipH)">
<rect x="38.40" y="430.90" width="96.30" height="78.70" fill="#050000" stroke="none" stroke-width="1"/>
<ellipse cx="80" cy="482" rx="31" ry="23" fill="url(#rg)" opacity="0.25" transform="rotate(20 80 482)"/>
<ellipse cx="77" cy="486" rx="23" ry="16.5" fill="url(#rg)" opacity="0.8" transform="rotate(15 77 486)"/>
<ellipse cx="72" cy="489" rx="10" ry="8" fill="url(#rg)" opacity="0.5" transform="rotate(0 72 489)"/>
<ellipse cx="84" cy="470" rx="13" ry="8" fill="url(#rg)" opacity="0.3" transform="rotate(0 84 470)"/>
<ellipse cx="76" cy="500" rx="12" ry="5" fill="url(#rg)" opacity="0.35" transform="rotate(0 76 500)"/>
<path d="M50.10,430.90 C49.30,431.92 46.23,430.88 45.30,437.00 C44.37,443.12 44.50,457.02 44.50,467.60 C44.50,478.18 44.77,494.62 45.30,500.50 C45.83,506.38 47.30,502.50 47.70,502.90 " fill="none" stroke="#e8e8e8" stroke-width="0.65"/>
<path d="M54.10,430.90 C57.10,436.28 69.10,457.82 72.10,463.20 " fill="none" stroke="#e8e8e8" stroke-width="0.65"/>
<path d="M44.50,467.60 C49.10,466.87 67.50,463.93 72.10,463.20 " fill="none" stroke="#e8e8e8" stroke-width="0.65"/>
<path d="M72.10,463.20 C73.92,463.25 79.32,462.37 83.00,463.50 C86.68,464.63 90.98,467.85 94.20,470.00 C97.42,472.15 100.68,474.00 102.30,476.40 C103.92,478.80 104.03,480.92 103.90,484.40 C103.77,487.88 102.58,493.82 101.50,497.30 C100.42,500.78 97.53,503.25 97.40,505.30 C97.27,507.35 100.15,508.88 100.70,509.60 " fill="none" stroke="#e8e8e8" stroke-width="0.65"/>
<path d="M72.10,463.20 C71.10,464.20 68.30,465.93 66.10,469.20 C63.90,472.47 61.03,478.38 58.90,482.80 C56.77,487.22 55.17,492.35 53.30,495.70 C51.43,499.05 48.63,501.70 47.70,502.90 " fill="none" stroke="#e8e8e8" stroke-width="0.65"/>
<path d="M47.70,502.90 C50.10,501.97 57.82,498.72 62.10,497.30 C66.38,495.88 69.65,494.45 73.40,494.40 C77.15,494.35 81.13,495.72 84.60,497.00 C88.07,498.28 91.52,500.00 94.20,502.10 C96.88,504.20 99.62,508.35 100.70,509.60 " fill="none" stroke="#e8e8e8" stroke-width="0.65"/>
<path d="M102.30,476.40 C106.45,478.93 123.05,489.07 127.20,491.60 " fill="none" stroke="#e8e8e8" stroke-width="0.65"/>
<path d="M127.20,491.60 C126.25,494.60 122.45,506.60 121.50,509.60 " fill="none" stroke="#e8e8e8" stroke-width="0.65"/>
<path d="M100.70,430.90 C103.37,432.60 112.15,437.27 116.70,441.10 C121.25,444.93 125.32,449.08 128.00,453.90 C130.68,458.72 132.27,465.18 132.80,470.00 C133.33,474.82 132.13,479.20 131.20,482.80 C130.27,486.40 127.87,490.13 127.20,491.60 " fill="none" stroke="#e8e8e8" stroke-width="0.65"/>
<path d="M47.70,502.90 C47.30,503.57 45.78,505.78 45.30,506.90 C44.82,508.02 44.88,509.15 44.80,509.60 " fill="none" stroke="#e8e8e8" stroke-width="0.65"/>
</g>
<text x="81.10" y="487.60" font-size="9.5" fill="#fff">OFC</text>
<rect x="116.50" y="502.50" width="3.00" height="1.40" fill="#fff" stroke="none" stroke-width="1"/>
<rect x="39.00" y="243.00" width="68.80" height="13.90" fill="#d9dbdb" stroke="none" stroke-width="1"/>
<text x="73.40" y="253.00" font-size="9.5" text-anchor="middle" fill="#222">training (RR)</text>
<path d="M71.10,257.20 L75.70,257.20 L73.40,262.30 Z" fill="#111"/>
<rect x="39.00" y="263.00" width="68.80" height="14.30" fill="#d9dbdb" stroke="none" stroke-width="1"/>
<text x="73.40" y="273.40" font-size="9.5" text-anchor="middle" fill="#222">reinforced</text>
<path d="M68.10,277.60 L72.70,277.60 L70.40,282.20 Z" fill="#111"/>
<path d="M73.60,282.20 L78.20,282.20 L75.90,277.60 Z" fill="#111"/>
<rect x="39.00" y="282.40" width="68.80" height="14.60" fill="#d9dbdb" stroke="none" stroke-width="1"/>
<text x="73.40" y="293.10" font-size="9.5" text-anchor="middle" fill="#222">non-reinforced</text>
<g transform="translate(38.00,297.50) rotate(0.00) scale(1.0)"><rect x="0" y="-2.40" width="1.8" height="4.80" fill="#5a5a5a"/><rect x="1.8" y="-1.30" width="6.8" height="2.60" fill="#9a9a9a" stroke="#555" stroke-width="0.4"/><rect x="8.6" y="-2.20" width="15.4" height="4.40" fill="#fff" stroke="#3a3a3a" stroke-width="0.6"/><rect x="11.2" y="-1.50" width="12.6" height="3.00" fill="#e01e17"/><path d="M24,-1.60 L26,-0.60 L26,0.60 L24,1.60 Z" fill="#3a3a3a"/><line x1="26" y1="0" x2="34" y2="0" stroke="#555" stroke-width="0.5"/></g>
<line x1="73.40" y1="297.50" x2="73.40" y2="327.50" stroke="#e2231a" stroke-width="1.7"/>
<path d="M70.6,325.5 L76.2,325.5 L73.4,331 Z" fill="#e2231a"/>
<circle cx="73.4" cy="297.3" r="2.4" fill="#e2231a"/>
<rect x="37.00" y="332.30" width="72.80" height="38.60" fill="#fff" stroke="#3c3c3c" stroke-width="1.8"/>
<rect x="38.50" y="355.20" width="69.80" height="14.90" fill="#b6fefc" stroke="none" stroke-width="1"/>
<text x="74.00" y="366.20" font-size="9.6" text-anchor="middle" fill="#222">choice test 1</text>
<g transform="translate(38.00,336.30) rotate(0.00) scale(1.0)"><rect x="0" y="-2.40" width="1.8" height="4.80" fill="#5a5a5a"/><rect x="1.8" y="-1.30" width="6.8" height="2.60" fill="#9a9a9a" stroke="#555" stroke-width="0.4"/><rect x="8.6" y="-2.20" width="15.4" height="4.40" fill="#fff" stroke="#3a3a3a" stroke-width="0.6"/><rect x="11.2" y="-1.50" width="12.6" height="3.00" fill="#9eeaf0"/><path d="M24,-1.60 L26,-0.60 L26,0.60 L24,1.60 Z" fill="#3a3a3a"/><line x1="26" y1="0" x2="34" y2="0" stroke="#555" stroke-width="0.5"/></g>
<circle cx="73.40" cy="335.70" r="1.9" fill="#a9f0f6"/>
<line x1="73.40" y1="335.90" x2="73.40" y2="352.30" stroke="#a9f0f6" stroke-width="2.2"/>
<path d="M70.80,350.80 L76.00,350.80 L73.40,355.40 Z" fill="#a9f0f6"/>
<text x="79.00" y="348.30" font-size="6.7" font-style="italic" fill="#222">30 mins</text>
<path d="M110.7,351.6 L121.7,351.6 L121.7,249.5 L125,249.5" fill="none" stroke="#111" stroke-width="1.9"/>
<path d="M124.4,246.1 L133.4,249.6 L124.4,253.4 Z" fill="#111"/>
<rect x="133.50" y="242.60" width="69.10" height="14.30" fill="#d9dbdb" stroke="none" stroke-width="1"/>
<text x="168.05" y="253.00" font-size="9.5" text-anchor="middle" fill="#222">training (RI)</text>
<path d="M165.40,257.20 L170.00,257.20 L167.70,262.00 Z" fill="#111"/>
<rect x="133.50" y="262.40" width="69.10" height="14.50" fill="#d9dbdb" stroke="none" stroke-width="1"/>
<text x="168.05" y="273.00" font-size="9.5" text-anchor="middle" fill="#222">reinforced</text>
<path d="M162.90,277.20 L167.50,277.20 L165.20,281.80 Z" fill="#111"/>
<path d="M168.30,281.80 L172.90,281.80 L170.60,277.20 Z" fill="#111"/>
<rect x="133.50" y="282.00" width="69.10" height="14.60" fill="#d9dbdb" stroke="none" stroke-width="1"/>
<text x="168.05" y="292.70" font-size="9.5" text-anchor="middle" fill="#222">non-reinforced</text>
<path d="M165.40,296.90 L170.00,296.90 L167.70,302.00 Z" fill="#111"/>
<rect x="132.50" y="303.20" width="71.50" height="38.80" fill="#fff" stroke="#3c3c3c" stroke-width="1.8"/>
<rect x="134.00" y="326.30" width="68.50" height="14.90" fill="#b6fefc" stroke="none" stroke-width="1"/>
<text x="168.85" y="337.30" font-size="9.6" text-anchor="middle" fill="#222">choice test 2</text>
<g transform="translate(133.50,307.20) rotate(0.00) scale(1.0)"><rect x="0" y="-2.40" width="1.8" height="4.80" fill="#5a5a5a"/><rect x="1.8" y="-1.30" width="6.8" height="2.60" fill="#9a9a9a" stroke="#555" stroke-width="0.4"/><rect x="8.6" y="-2.20" width="15.4" height="4.40" fill="#fff" stroke="#3a3a3a" stroke-width="0.6"/><rect x="11.2" y="-1.50" width="12.6" height="3.00" fill="#9eeaf0"/><path d="M24,-1.60 L26,-0.60 L26,0.60 L24,1.60 Z" fill="#3a3a3a"/><line x1="26" y1="0" x2="34" y2="0" stroke="#555" stroke-width="0.5"/></g>
<circle cx="168.90" cy="306.60" r="1.9" fill="#a9f0f6"/>
<line x1="168.90" y1="306.80" x2="168.90" y2="323.40" stroke="#a9f0f6" stroke-width="2.2"/>
<path d="M166.30,321.90 L171.50,321.90 L168.90,326.50 Z" fill="#a9f0f6"/>
<text x="174.50" y="317.30" font-size="6.7" font-style="italic" fill="#222">30 mins</text>
<g transform="translate(129.00,347.60) rotate(0.00) scale(1.0)"><rect x="0" y="-2.40" width="1.8" height="4.80" fill="#5a5a5a"/><rect x="1.8" y="-1.30" width="6.8" height="2.60" fill="#9a9a9a" stroke="#555" stroke-width="0.4"/><rect x="8.6" y="-2.20" width="15.4" height="4.40" fill="#fff" stroke="#3a3a3a" stroke-width="0.6"/><rect x="11.2" y="-1.50" width="12.6" height="3.00" fill="#9eeaf0"/><path d="M24,-1.60 L26,-0.60 L26,0.60 L24,1.60 Z" fill="#3a3a3a"/><line x1="26" y1="0" x2="34" y2="0" stroke="#555" stroke-width="0.5"/></g>
<text x="152.80" y="355.60" font-size="8.0" fill="#222">CNO</text>
<text x="173.10" y="355.60" font-size="6.85" font-style="italic" fill="#222">(1.0 mg/kg)</text>
<g transform="translate(129.00,363.60) rotate(0.00) scale(1.0)"><rect x="0" y="-2.40" width="1.8" height="4.80" fill="#5a5a5a"/><rect x="1.8" y="-1.30" width="6.8" height="2.60" fill="#9a9a9a" stroke="#555" stroke-width="0.4"/><rect x="8.6" y="-2.20" width="15.4" height="4.40" fill="#fff" stroke="#3a3a3a" stroke-width="0.6"/><rect x="11.2" y="-1.50" width="12.6" height="3.00" fill="#e01e17"/><path d="M24,-1.60 L26,-0.60 L26,0.60 L24,1.60 Z" fill="#3a3a3a"/><line x1="26" y1="0" x2="34" y2="0" stroke="#555" stroke-width="0.5"/></g>
<text x="152.80" y="371.60" font-size="8.0" fill="#222">4OHT</text>
<text x="176.90" y="371.60" font-size="6.85" font-style="italic" fill="#222">(40 mg/kg)</text>
<rect x="39.00" y="522.40" width="68.80" height="14.30" fill="#d9dbdb" stroke="none" stroke-width="1"/>
<text x="73.40" y="532.80" font-size="9.5" text-anchor="middle" fill="#222">training (RI)</text>
<g transform="translate(38.00,537.20) rotate(0.00) scale(1.0)"><rect x="0" y="-2.40" width="1.8" height="4.80" fill="#5a5a5a"/><rect x="1.8" y="-1.30" width="6.8" height="2.60" fill="#9a9a9a" stroke="#555" stroke-width="0.4"/><rect x="8.6" y="-2.20" width="15.4" height="4.40" fill="#fff" stroke="#3a3a3a" stroke-width="0.6"/><rect x="11.2" y="-1.50" width="12.6" height="3.00" fill="#e01e17"/><path d="M24,-1.60 L26,-0.60 L26,0.60 L24,1.60 Z" fill="#3a3a3a"/><line x1="26" y1="0" x2="34" y2="0" stroke="#555" stroke-width="0.5"/></g>
<line x1="72.80" y1="537.50" x2="72.80" y2="567.50" stroke="#e2231a" stroke-width="1.7"/>
<path d="M70.0,566 L75.6,566 L72.8,571.3 Z" fill="#e2231a"/>
<circle cx="72.8" cy="537.4" r="2.4" fill="#e2231a"/>
<rect x="39.00" y="572.40" width="68.80" height="14.40" fill="#d9dbdb" stroke="none" stroke-width="1"/>
<text x="73.40" y="582.90" font-size="9.5" text-anchor="middle" fill="#222">reinforced</text>
<path d="M68.10,587.10 L72.70,587.10 L70.40,591.80 Z" fill="#111"/>
<path d="M73.60,591.80 L78.20,591.80 L75.90,587.10 Z" fill="#111"/>
<rect x="39.00" y="592.20" width="68.80" height="14.30" fill="#d9dbdb" stroke="none" stroke-width="1"/>
<text x="73.40" y="602.60" font-size="9.5" text-anchor="middle" fill="#222">non-reinforced</text>
<path d="M71.10,606.80 L75.70,606.80 L73.40,611.50 Z" fill="#111"/>
<rect x="36.80" y="612.30" width="72.90" height="38.60" fill="#fff" stroke="#3c3c3c" stroke-width="1.4"/>
<rect x="38.50" y="635.00" width="69.50" height="14.90" fill="#b6fefc" stroke="none" stroke-width="1"/>
<text x="73.85" y="646.00" font-size="9.6" text-anchor="middle" fill="#222">choice test 1</text>
<g transform="translate(38.00,616.50) rotate(0.00) scale(1.0)"><rect x="0" y="-2.40" width="1.8" height="4.80" fill="#5a5a5a"/><rect x="1.8" y="-1.30" width="6.8" height="2.60" fill="#9a9a9a" stroke="#555" stroke-width="0.4"/><rect x="8.6" y="-2.20" width="15.4" height="4.40" fill="#fff" stroke="#3a3a3a" stroke-width="0.6"/><rect x="11.2" y="-1.50" width="12.6" height="3.00" fill="#9eeaf0"/><path d="M24,-1.60 L26,-0.60 L26,0.60 L24,1.60 Z" fill="#3a3a3a"/><line x1="26" y1="0" x2="34" y2="0" stroke="#555" stroke-width="0.5"/></g>
<circle cx="73.40" cy="615.90" r="1.9" fill="#a9f0f6"/>
<line x1="73.40" y1="616.10" x2="73.40" y2="632.10" stroke="#a9f0f6" stroke-width="2.2"/>
<path d="M70.80,630.60 L76.00,630.60 L73.40,635.20 Z" fill="#a9f0f6"/>
<text x="79.00" y="626.90" font-size="6.1" font-style="italic" fill="#222">30 mins</text>
<path d="M110.4,631.3 L121.4,631.3 L121.4,530.1 L125,530.1" fill="none" stroke="#111" stroke-width="1.9"/>
<path d="M124.2,526.6 L133.2,530.1 L124.2,533.8 Z" fill="#111"/>
<rect x="133.50" y="522.70" width="69.10" height="14.00" fill="#d9dbdb" stroke="none" stroke-width="1"/>
<text x="168.05" y="532.80" font-size="9.5" text-anchor="middle" fill="#222">training (RR)</text>
<path d="M165.40,537.00 L170.00,537.00 L167.70,541.80 Z" fill="#111"/>
<rect x="133.50" y="542.30" width="69.10" height="14.50" fill="#d9dbdb" stroke="none" stroke-width="1"/>
<text x="168.05" y="552.90" font-size="9.5" text-anchor="middle" fill="#222">reinforced</text>
<path d="M162.90,557.10 L167.50,557.10 L165.20,561.80 Z" fill="#111"/>
<path d="M168.30,561.80 L172.90,561.80 L170.60,557.10 Z" fill="#111"/>
<rect x="133.50" y="562.30" width="69.10" height="14.10" fill="#d9dbdb" stroke="none" stroke-width="1"/>
<text x="168.05" y="572.50" font-size="9.5" text-anchor="middle" fill="#222">non-reinforced</text>
<path d="M165.40,576.70 L170.00,576.70 L167.70,582.00 Z" fill="#111"/>
<rect x="131.95" y="583.15" width="72.00" height="38.60" fill="#fff" stroke="#3c3c3c" stroke-width="1.5"/>
<rect x="133.60" y="605.90" width="68.70" height="14.90" fill="#b6fefc" stroke="none" stroke-width="1"/>
<text x="168.55" y="616.90" font-size="9.6" text-anchor="middle" fill="#222">choice test 2</text>
<g transform="translate(133.10,587.30) rotate(0.00) scale(1.0)"><rect x="0" y="-2.40" width="1.8" height="4.80" fill="#5a5a5a"/><rect x="1.8" y="-1.30" width="6.8" height="2.60" fill="#9a9a9a" stroke="#555" stroke-width="0.4"/><rect x="8.6" y="-2.20" width="15.4" height="4.40" fill="#fff" stroke="#3a3a3a" stroke-width="0.6"/><rect x="11.2" y="-1.50" width="12.6" height="3.00" fill="#9eeaf0"/><path d="M24,-1.60 L26,-0.60 L26,0.60 L24,1.60 Z" fill="#3a3a3a"/><line x1="26" y1="0" x2="34" y2="0" stroke="#555" stroke-width="0.5"/></g>
<circle cx="168.50" cy="586.70" r="1.9" fill="#a9f0f6"/>
<line x1="168.50" y1="586.90" x2="168.50" y2="603.00" stroke="#a9f0f6" stroke-width="2.2"/>
<path d="M165.90,601.50 L171.10,601.50 L168.50,606.10 Z" fill="#a9f0f6"/>
<text x="174.10" y="597.80" font-size="6.7" font-style="italic" fill="#222">30 mins</text>
<g transform="translate(129.00,628.00) rotate(0.00) scale(1.0)"><rect x="0" y="-2.40" width="1.8" height="4.80" fill="#5a5a5a"/><rect x="1.8" y="-1.30" width="6.8" height="2.60" fill="#9a9a9a" stroke="#555" stroke-width="0.4"/><rect x="8.6" y="-2.20" width="15.4" height="4.40" fill="#fff" stroke="#3a3a3a" stroke-width="0.6"/><rect x="11.2" y="-1.50" width="12.6" height="3.00" fill="#9eeaf0"/><path d="M24,-1.60 L26,-0.60 L26,0.60 L24,1.60 Z" fill="#3a3a3a"/><line x1="26" y1="0" x2="34" y2="0" stroke="#555" stroke-width="0.5"/></g>
<text x="152.80" y="635.80" font-size="8.0" fill="#222">CNO</text>
<text x="173.10" y="635.80" font-size="6.85" font-style="italic" fill="#222">(1.0 mg/kg)</text>
<g transform="translate(129.00,644.70) rotate(0.00) scale(1.0)"><rect x="0" y="-2.40" width="1.8" height="4.80" fill="#5a5a5a"/><rect x="1.8" y="-1.30" width="6.8" height="2.60" fill="#9a9a9a" stroke="#555" stroke-width="0.4"/><rect x="8.6" y="-2.20" width="15.4" height="4.40" fill="#fff" stroke="#3a3a3a" stroke-width="0.6"/><rect x="11.2" y="-1.50" width="12.6" height="3.00" fill="#e01e17"/><path d="M24,-1.60 L26,-0.60 L26,0.60 L24,1.60 Z" fill="#3a3a3a"/><line x1="26" y1="0" x2="34" y2="0" stroke="#555" stroke-width="0.5"/></g>
<text x="152.80" y="652.50" font-size="8.0" fill="#222">4OHT</text>
<text x="176.90" y="652.50" font-size="6.85" font-style="italic" fill="#222">(40 mg/kg)</text>
<path d="M247.95,314.25 L251.30,314.25 L254.65,313.09 L258.00,311.94 L261.35,310.78 L264.70,310.21 L268.05,309.63 L271.40,309.05 L274.75,309.63 L278.10,306.16 L281.45,270.36 L284.80,281.91 L288.15,271.51 L291.50,259.96 L294.85,250.72 L298.20,244.95 L301.55,251.88 L304.90,240.33 L308.25,254.19 L311.60,249.57 L314.95,256.50 L318.30,250.72 L321.65,257.65 L321.65,279.60 L318.30,272.67 L314.95,278.44 L311.60,271.51 L308.25,276.13 L304.90,262.27 L301.55,273.82 L298.20,266.89 L294.85,272.67 L291.50,281.91 L288.15,293.46 L284.80,303.85 L281.45,292.30 L278.10,309.63 L274.75,313.09 L271.40,312.52 L268.05,313.09 L264.70,313.67 L261.35,314.25 L258.00,315.40 L254.65,316.56 L251.30,317.71 L247.95,317.71 Z" fill="#7cc9d2" opacity="0.55"/>
<path d="M328.35,259.38 L331.70,268.62 L335.05,276.71 L338.40,272.09 L341.75,237.44 L345.10,237.44 L348.45,227.05 L351.80,259.38 L355.15,257.08 L358.50,243.22 L361.85,257.08 L361.85,284.80 L358.50,270.94 L355.15,284.80 L351.80,287.11 L348.45,254.77 L345.10,265.16 L341.75,265.16 L338.40,299.81 L335.05,304.43 L331.70,296.35 L328.35,287.11 Z" fill="#7cc9d2" opacity="0.55"/>
<path d="M247.95,314.36 L251.30,315.52 L254.65,314.36 L258.00,312.28 L261.35,311.36 L264.70,310.09 L268.05,309.28 L271.40,308.13 L274.75,306.16 L278.10,302.58 L281.45,265.51 L284.80,274.05 L288.15,277.06 L291.50,264.12 L294.85,259.27 L298.20,260.19 L301.55,257.31 L304.90,239.40 L308.25,261.46 L311.60,248.07 L314.95,258.92 L318.30,266.66 L321.65,258.46 L321.65,271.17 L318.30,279.37 L314.95,271.63 L311.60,260.77 L308.25,274.17 L304.90,252.11 L301.55,270.01 L298.20,272.90 L294.85,271.97 L291.50,276.83 L288.15,289.76 L284.80,286.76 L281.45,278.21 L278.10,305.35 L274.75,308.93 L271.40,310.90 L268.05,312.05 L264.70,312.86 L261.35,314.13 L258.00,315.06 L254.65,317.14 L251.30,318.29 L247.95,317.14 Z" fill="#cfcfcf" opacity="0.6"/>
<path d="M328.35,282.83 L331.70,282.14 L335.05,289.88 L338.40,279.14 L341.75,253.03 L345.10,243.68 L348.45,242.41 L351.80,258.81 L355.15,242.41 L358.50,249.34 L361.85,253.03 L361.85,271.51 L358.50,267.82 L355.15,260.89 L351.80,277.29 L348.45,260.89 L345.10,262.16 L341.75,271.51 L338.40,297.62 L335.05,308.36 L331.70,300.62 L328.35,301.31 Z" fill="#cfcfcf" opacity="0.6"/>
<polyline points="247.95,315.98 251.30,315.98 254.65,314.83 258.00,313.67 261.35,312.52 264.70,311.94 268.05,311.36 271.40,310.78 274.75,311.36 278.10,307.90 281.45,281.33 284.80,292.88 288.15,282.49 291.50,270.94 294.85,261.70 298.20,255.92 301.55,262.85 304.90,251.30 308.25,265.16 311.60,260.54 314.95,267.47 318.30,261.70 321.65,268.62" fill="none" stroke="#4aa8b4" stroke-width="1"/>
<circle cx="247.95" cy="315.98" r="2.0" fill="#4aa8b4"/>
<circle cx="251.30" cy="315.98" r="2.0" fill="#4aa8b4"/>
<circle cx="254.65" cy="314.83" r="2.0" fill="#4aa8b4"/>
<circle cx="258.00" cy="313.67" r="2.0" fill="#4aa8b4"/>
<circle cx="261.35" cy="312.52" r="2.0" fill="#4aa8b4"/>
<circle cx="264.70" cy="311.94" r="2.0" fill="#4aa8b4"/>
<circle cx="268.05" cy="311.36" r="2.0" fill="#4aa8b4"/>
<circle cx="271.40" cy="310.78" r="2.0" fill="#4aa8b4"/>
<circle cx="274.75" cy="311.36" r="2.0" fill="#4aa8b4"/>
<circle cx="278.10" cy="307.90" r="2.0" fill="#4aa8b4"/>
<circle cx="281.45" cy="281.33" r="2.0" fill="#4aa8b4"/>
<circle cx="284.80" cy="292.88" r="2.0" fill="#4aa8b4"/>
<circle cx="288.15" cy="282.49" r="2.0" fill="#4aa8b4"/>
<circle cx="291.50" cy="270.94" r="2.0" fill="#4aa8b4"/>
<circle cx="294.85" cy="261.70" r="2.0" fill="#4aa8b4"/>
<circle cx="298.20" cy="255.92" r="2.0" fill="#4aa8b4"/>
<circle cx="301.55" cy="262.85" r="2.0" fill="#4aa8b4"/>
<circle cx="304.90" cy="251.30" r="2.0" fill="#4aa8b4"/>
<circle cx="308.25" cy="265.16" r="2.0" fill="#4aa8b4"/>
<circle cx="311.60" cy="260.54" r="2.0" fill="#4aa8b4"/>
<circle cx="314.95" cy="267.47" r="2.0" fill="#4aa8b4"/>
<circle cx="318.30" cy="261.70" r="2.0" fill="#4aa8b4"/>
<circle cx="321.65" cy="268.62" r="2.0" fill="#4aa8b4"/>
<polyline points="328.35,273.25 331.70,282.49 335.05,290.57 338.40,285.95 341.75,251.30 345.10,251.30 348.45,240.91 351.80,273.25 355.15,270.94 358.50,257.08 361.85,270.94" fill="none" stroke="#4aa8b4" stroke-width="1"/>
<circle cx="328.35" cy="273.25" r="2.0" fill="#4aa8b4"/>
<circle cx="331.70" cy="282.49" r="2.0" fill="#4aa8b4"/>
<circle cx="335.05" cy="290.57" r="2.0" fill="#4aa8b4"/>
<circle cx="338.40" cy="285.95" r="2.0" fill="#4aa8b4"/>
<circle cx="341.75" cy="251.30" r="2.0" fill="#4aa8b4"/>
<circle cx="345.10" cy="251.30" r="2.0" fill="#4aa8b4"/>
<circle cx="348.45" cy="240.91" r="2.0" fill="#4aa8b4"/>
<circle cx="351.80" cy="273.25" r="2.0" fill="#4aa8b4"/>
<circle cx="355.15" cy="270.94" r="2.0" fill="#4aa8b4"/>
<circle cx="358.50" cy="257.08" r="2.0" fill="#4aa8b4"/>
<circle cx="361.85" cy="270.94" r="2.0" fill="#4aa8b4"/>
<polyline points="247.95,315.75 251.30,316.90 254.65,315.75 258.00,313.67 261.35,312.75 264.70,311.48 268.05,310.67 271.40,309.51 274.75,307.55 278.10,303.97 281.45,271.86 284.80,280.41 288.15,283.41 291.50,270.47 294.85,265.62 298.20,266.55 301.55,263.66 304.90,245.76 308.25,267.82 311.60,254.42 314.95,265.28 318.30,273.01 321.65,264.81" fill="none" stroke="#111" stroke-width="1.1"/>
<circle cx="247.95" cy="315.75" r="2.4" fill="#111"/>
<circle cx="251.30" cy="316.90" r="2.4" fill="#111"/>
<circle cx="254.65" cy="315.75" r="2.4" fill="#111"/>
<circle cx="258.00" cy="313.67" r="2.4" fill="#111"/>
<circle cx="261.35" cy="312.75" r="2.4" fill="#111"/>
<circle cx="264.70" cy="311.48" r="2.4" fill="#111"/>
<circle cx="268.05" cy="310.67" r="2.4" fill="#111"/>
<circle cx="271.40" cy="309.51" r="2.4" fill="#111"/>
<circle cx="274.75" cy="307.55" r="2.4" fill="#111"/>
<circle cx="278.10" cy="303.97" r="2.4" fill="#111"/>
<circle cx="281.45" cy="271.86" r="2.4" fill="#111"/>
<circle cx="284.80" cy="280.41" r="2.4" fill="#111"/>
<circle cx="288.15" cy="283.41" r="2.4" fill="#111"/>
<circle cx="291.50" cy="270.47" r="2.4" fill="#111"/>
<circle cx="294.85" cy="265.62" r="2.4" fill="#111"/>
<circle cx="298.20" cy="266.55" r="2.4" fill="#111"/>
<circle cx="301.55" cy="263.66" r="2.4" fill="#111"/>
<circle cx="304.90" cy="245.76" r="2.4" fill="#111"/>
<circle cx="308.25" cy="267.82" r="2.4" fill="#111"/>
<circle cx="311.60" cy="254.42" r="2.4" fill="#111"/>
<circle cx="314.95" cy="265.28" r="2.4" fill="#111"/>
<circle cx="318.30" cy="273.01" r="2.4" fill="#111"/>
<circle cx="321.65" cy="264.81" r="2.4" fill="#111"/>
<polyline points="328.35,292.07 331.70,291.38 335.05,299.12 338.40,288.38 341.75,262.27 345.10,252.92 348.45,251.65 351.80,268.05 355.15,251.65 358.50,258.58 361.85,262.27" fill="none" stroke="#111" stroke-width="1.1"/>
<circle cx="328.35" cy="292.07" r="2.4" fill="#111"/>
<circle cx="331.70" cy="291.38" r="2.4" fill="#111"/>
<circle cx="335.05" cy="299.12" r="2.4" fill="#111"/>
<circle cx="338.40" cy="288.38" r="2.4" fill="#111"/>
<circle cx="341.75" cy="262.27" r="2.4" fill="#111"/>
<circle cx="345.10" cy="252.92" r="2.4" fill="#111"/>
<circle cx="348.45" cy="251.65" r="2.4" fill="#111"/>
<circle cx="351.80" cy="268.05" r="2.4" fill="#111"/>
<circle cx="355.15" cy="251.65" r="2.4" fill="#111"/>
<circle cx="358.50" cy="258.58" r="2.4" fill="#111"/>
<circle cx="361.85" cy="262.27" r="2.4" fill="#111"/>
<line x1="246.20" y1="204.20" x2="246.20" y2="321.50" stroke="#111" stroke-width="1.9"/>
<line x1="241.00" y1="320.60" x2="246.20" y2="320.60" stroke="#111" stroke-width="1.7"/>
<text x="238.30" y="324.00" font-size="9.5" text-anchor="end" fill="#1a1a1a">0</text>
<line x1="241.00" y1="297.50" x2="246.20" y2="297.50" stroke="#111" stroke-width="1.7"/>
<text x="238.30" y="300.90" font-size="9.5" text-anchor="end" fill="#1a1a1a">2</text>
<line x1="241.00" y1="274.40" x2="246.20" y2="274.40" stroke="#111" stroke-width="1.7"/>
<text x="238.30" y="277.80" font-size="9.5" text-anchor="end" fill="#1a1a1a">4</text>
<line x1="241.00" y1="251.30" x2="246.20" y2="251.30" stroke="#111" stroke-width="1.7"/>
<text x="238.30" y="254.70" font-size="9.5" text-anchor="end" fill="#1a1a1a">6</text>
<line x1="241.00" y1="228.20" x2="246.20" y2="228.20" stroke="#111" stroke-width="1.7"/>
<text x="238.30" y="231.60" font-size="9.5" text-anchor="end" fill="#1a1a1a">8</text>
<line x1="241.00" y1="205.10" x2="246.20" y2="205.10" stroke="#111" stroke-width="1.7"/>
<text x="238.30" y="208.50" font-size="9.5" text-anchor="end" fill="#1a1a1a">10</text>
<line x1="245.30" y1="320.60" x2="362.90" y2="320.60" stroke="#111" stroke-width="1.9"/>
<line x1="278.10" y1="320.60" x2="278.10" y2="325.20" stroke="#111" stroke-width="1.7"/>
<text x="278.10" y="338.10" font-size="9.5" text-anchor="middle" fill="#1a1a1a">10</text>
<line x1="311.60" y1="320.60" x2="311.60" y2="325.20" stroke="#111" stroke-width="1.7"/>
<text x="311.60" y="338.10" font-size="9.5" text-anchor="middle" fill="#1a1a1a">20</text>
<line x1="345.10" y1="320.60" x2="345.10" y2="325.20" stroke="#111" stroke-width="1.7"/>
<text x="345.10" y="338.10" font-size="9.5" text-anchor="middle" fill="#1a1a1a">30</text>
<text x="249.80" y="305.40" font-size="9.5" font-style="italic" fill="#1a1a1a">FR</text>
<text x="277.50" y="241.70" font-size="9.5" font-style="italic" fill="#1a1a1a">RR</text>
<text x="327.70" y="231.20" font-size="9.5" font-style="italic" fill="#1a1a1a">RI</text>
<path d="M319.10,305.00 L325.70,305.00 L322.40,298.20 Z" fill="#111"/>
<text x="321.20" y="314.50" font-size="9.5" text-anchor="end" font-style="italic" fill="#1a1a1a">test 1</text>
<path d="M359.30,305.00 L365.90,305.00 L362.60,298.20 Z" fill="#111"/>
<text x="364.50" y="314.50" font-size="9.5" text-anchor="end" font-style="italic" fill="#1a1a1a">test 2</text>
<text x="0" y="0" font-size="9.5" text-anchor="middle" fill="#1a1a1a" transform="translate(228.20,265.00) rotate(-90)">responses / min</text>
<text x="304.50" y="350.50" font-size="9.4" text-anchor="middle" fill="#1a1a1a">session (day)</text>
<ellipse cx="251.10" cy="184.10" rx="4.6" ry="4.2" fill="#111"/>
<ellipse cx="251.10" cy="195.50" rx="4.6" ry="4.2" fill="#4aa8b4"/>
<text x="257.70" y="187.40" font-size="9.5" font-style="italic" fill="#1a1a1a">ctrl</text>
<text x="257.70" y="198.80" font-size="9.5" font-style="italic" fill="#1a1a1a">Gi</text>
<path d="M242.95,577.94 L246.30,577.36 L249.65,576.78 L253.00,576.20 L256.35,575.04 L259.70,574.47 L263.05,572.73 L266.40,572.15 L269.75,570.99 L273.10,571.57 L276.45,543.23 L279.80,550.75 L283.15,546.81 L286.50,524.48 L289.85,526.45 L293.20,535.13 L296.55,538.60 L299.90,536.52 L303.25,549.24 L306.60,543.46 L309.95,547.85 L313.30,545.54 L316.65,528.19 L316.65,550.17 L313.30,567.52 L309.95,569.84 L306.60,565.44 L303.25,571.23 L299.90,558.50 L296.55,560.58 L293.20,557.11 L289.85,548.43 L286.50,546.47 L283.15,568.80 L279.80,572.73 L276.45,565.21 L273.10,575.04 L269.75,574.47 L266.40,575.62 L263.05,576.20 L259.70,577.94 L256.35,578.51 L253.00,579.67 L249.65,580.25 L246.30,580.83 L242.95,581.41 Z" fill="#8fe07a" opacity="0.55"/>
<path d="M323.35,530.27 L326.70,527.38 L330.05,533.39 L333.40,506.55 L336.75,509.90 L340.10,511.18 L343.45,517.19 L346.80,524.14 L350.15,529.57 L353.50,511.18 L356.85,520.66 L356.85,548.43 L353.50,538.95 L350.15,557.34 L346.80,551.90 L343.45,544.96 L340.10,538.95 L336.75,537.67 L333.40,534.32 L330.05,561.16 L326.70,555.14 L323.35,558.04 Z" fill="#8fe07a" opacity="0.55"/>
<path d="M242.95,577.82 L246.30,578.75 L249.65,576.32 L253.00,575.51 L256.35,574.00 L259.70,573.66 L263.05,571.69 L266.40,568.33 L269.75,569.84 L273.10,567.41 L276.45,544.04 L279.80,546.23 L283.15,544.73 L286.50,537.09 L289.85,547.74 L293.20,545.31 L296.55,537.79 L299.90,517.89 L303.25,535.82 L306.60,530.73 L309.95,547.74 L313.30,538.60 L316.65,544.38 L316.65,557.11 L313.30,551.33 L309.95,560.47 L306.60,543.46 L303.25,548.55 L299.90,530.62 L296.55,550.52 L293.20,558.04 L289.85,560.47 L286.50,549.82 L283.15,557.46 L279.80,558.96 L276.45,556.76 L273.10,570.18 L269.75,572.61 L266.40,571.11 L263.05,574.47 L259.70,576.43 L256.35,576.78 L253.00,578.28 L249.65,579.09 L246.30,581.52 L242.95,580.60 Z" fill="#cfcfcf" opacity="0.6"/>
<path d="M323.35,547.51 L326.70,547.16 L330.05,528.19 L333.40,515.81 L336.75,521.13 L340.10,524.02 L343.45,530.50 L346.80,532.00 L350.15,524.02 L353.50,524.48 L356.85,517.77 L356.85,536.28 L353.50,543.00 L350.15,542.53 L346.80,550.52 L343.45,549.01 L340.10,542.53 L336.75,539.64 L333.40,534.32 L330.05,546.70 L326.70,565.67 L323.35,566.02 Z" fill="#cfcfcf" opacity="0.6"/>
<polyline points="242.95,579.67 246.30,579.09 249.65,578.51 253.00,577.94 256.35,576.78 259.70,576.20 263.05,574.47 266.40,573.89 269.75,572.73 273.10,573.31 276.45,554.22 279.80,561.74 283.15,557.80 286.50,535.47 289.85,537.44 293.20,546.12 296.55,549.59 299.90,547.51 303.25,560.23 306.60,554.45 309.95,558.85 313.30,556.53 316.65,539.18" fill="none" stroke="#3fd42a" stroke-width="1"/>
<circle cx="242.95" cy="579.67" r="2.0" fill="#3fd42a"/>
<circle cx="246.30" cy="579.09" r="2.0" fill="#3fd42a"/>
<circle cx="249.65" cy="578.51" r="2.0" fill="#3fd42a"/>
<circle cx="253.00" cy="577.94" r="2.0" fill="#3fd42a"/>
<circle cx="256.35" cy="576.78" r="2.0" fill="#3fd42a"/>
<circle cx="259.70" cy="576.20" r="2.0" fill="#3fd42a"/>
<circle cx="263.05" cy="574.47" r="2.0" fill="#3fd42a"/>
<circle cx="266.40" cy="573.89" r="2.0" fill="#3fd42a"/>
<circle cx="269.75" cy="572.73" r="2.0" fill="#3fd42a"/>
<circle cx="273.10" cy="573.31" r="2.0" fill="#3fd42a"/>
<circle cx="276.45" cy="554.22" r="2.0" fill="#3fd42a"/>
<circle cx="279.80" cy="561.74" r="2.0" fill="#3fd42a"/>
<circle cx="283.15" cy="557.80" r="2.0" fill="#3fd42a"/>
<circle cx="286.50" cy="535.47" r="2.0" fill="#3fd42a"/>
<circle cx="289.85" cy="537.44" r="2.0" fill="#3fd42a"/>
<circle cx="293.20" cy="546.12" r="2.0" fill="#3fd42a"/>
<circle cx="296.55" cy="549.59" r="2.0" fill="#3fd42a"/>
<circle cx="299.90" cy="547.51" r="2.0" fill="#3fd42a"/>
<circle cx="303.25" cy="560.23" r="2.0" fill="#3fd42a"/>
<circle cx="306.60" cy="554.45" r="2.0" fill="#3fd42a"/>
<circle cx="309.95" cy="558.85" r="2.0" fill="#3fd42a"/>
<circle cx="313.30" cy="556.53" r="2.0" fill="#3fd42a"/>
<circle cx="316.65" cy="539.18" r="2.0" fill="#3fd42a"/>
<polyline points="323.35,544.15 326.70,541.26 330.05,547.28 333.40,520.43 336.75,523.79 340.10,525.06 343.45,531.08 346.80,538.02 350.15,543.46 353.50,525.06 356.85,534.55" fill="none" stroke="#3fd42a" stroke-width="1"/>
<circle cx="323.35" cy="544.15" r="2.0" fill="#3fd42a"/>
<circle cx="326.70" cy="541.26" r="2.0" fill="#3fd42a"/>
<circle cx="330.05" cy="547.28" r="2.0" fill="#3fd42a"/>
<circle cx="333.40" cy="520.43" r="2.0" fill="#3fd42a"/>
<circle cx="336.75" cy="523.79" r="2.0" fill="#3fd42a"/>
<circle cx="340.10" cy="525.06" r="2.0" fill="#3fd42a"/>
<circle cx="343.45" cy="531.08" r="2.0" fill="#3fd42a"/>
<circle cx="346.80" cy="538.02" r="2.0" fill="#3fd42a"/>
<circle cx="350.15" cy="543.46" r="2.0" fill="#3fd42a"/>
<circle cx="353.50" cy="525.06" r="2.0" fill="#3fd42a"/>
<circle cx="356.85" cy="534.55" r="2.0" fill="#3fd42a"/>
<polyline points="242.95,579.21 246.30,580.13 249.65,577.71 253.00,576.90 256.35,575.39 259.70,575.04 263.05,573.08 266.40,569.72 269.75,571.23 273.10,568.80 276.45,550.40 279.80,552.60 283.15,551.09 286.50,543.46 289.85,554.10 293.20,551.67 296.55,544.15 299.90,524.25 303.25,542.19 306.60,537.09 309.95,554.10 313.30,544.96 316.65,550.75" fill="none" stroke="#111" stroke-width="1.1"/>
<circle cx="242.95" cy="579.21" r="2.4" fill="#111"/>
<circle cx="246.30" cy="580.13" r="2.4" fill="#111"/>
<circle cx="249.65" cy="577.71" r="2.4" fill="#111"/>
<circle cx="253.00" cy="576.90" r="2.4" fill="#111"/>
<circle cx="256.35" cy="575.39" r="2.4" fill="#111"/>
<circle cx="259.70" cy="575.04" r="2.4" fill="#111"/>
<circle cx="263.05" cy="573.08" r="2.4" fill="#111"/>
<circle cx="266.40" cy="569.72" r="2.4" fill="#111"/>
<circle cx="269.75" cy="571.23" r="2.4" fill="#111"/>
<circle cx="273.10" cy="568.80" r="2.4" fill="#111"/>
<circle cx="276.45" cy="550.40" r="2.4" fill="#111"/>
<circle cx="279.80" cy="552.60" r="2.4" fill="#111"/>
<circle cx="283.15" cy="551.09" r="2.4" fill="#111"/>
<circle cx="286.50" cy="543.46" r="2.4" fill="#111"/>
<circle cx="289.85" cy="554.10" r="2.4" fill="#111"/>
<circle cx="293.20" cy="551.67" r="2.4" fill="#111"/>
<circle cx="296.55" cy="544.15" r="2.4" fill="#111"/>
<circle cx="299.90" cy="524.25" r="2.4" fill="#111"/>
<circle cx="303.25" cy="542.19" r="2.4" fill="#111"/>
<circle cx="306.60" cy="537.09" r="2.4" fill="#111"/>
<circle cx="309.95" cy="554.10" r="2.4" fill="#111"/>
<circle cx="313.30" cy="544.96" r="2.4" fill="#111"/>
<circle cx="316.65" cy="550.75" r="2.4" fill="#111"/>
<polyline points="323.35,556.76 326.70,556.42 330.05,537.44 333.40,525.06 336.75,530.38 340.10,533.28 343.45,539.76 346.80,541.26 350.15,533.28 353.50,533.74 356.85,527.03" fill="none" stroke="#111" stroke-width="1.1"/>
<circle cx="323.35" cy="556.76" r="2.4" fill="#111"/>
<circle cx="326.70" cy="556.42" r="2.4" fill="#111"/>
<circle cx="330.05" cy="537.44" r="2.4" fill="#111"/>
<circle cx="333.40" cy="525.06" r="2.4" fill="#111"/>
<circle cx="336.75" cy="530.38" r="2.4" fill="#111"/>
<circle cx="340.10" cy="533.28" r="2.4" fill="#111"/>
<circle cx="343.45" cy="539.76" r="2.4" fill="#111"/>
<circle cx="346.80" cy="541.26" r="2.4" fill="#111"/>
<circle cx="350.15" cy="533.28" r="2.4" fill="#111"/>
<circle cx="353.50" cy="533.74" r="2.4" fill="#111"/>
<circle cx="356.85" cy="527.03" r="2.4" fill="#111"/>
<line x1="241.20" y1="467.70" x2="241.20" y2="585.20" stroke="#111" stroke-width="1.9"/>
<line x1="236.00" y1="584.30" x2="241.20" y2="584.30" stroke="#111" stroke-width="1.7"/>
<text x="233.30" y="587.70" font-size="9.5" text-anchor="end" fill="#1a1a1a">0</text>
<line x1="236.00" y1="561.16" x2="241.20" y2="561.16" stroke="#111" stroke-width="1.7"/>
<text x="233.30" y="564.56" font-size="9.5" text-anchor="end" fill="#1a1a1a">2</text>
<line x1="236.00" y1="538.02" x2="241.20" y2="538.02" stroke="#111" stroke-width="1.7"/>
<text x="233.30" y="541.42" font-size="9.5" text-anchor="end" fill="#1a1a1a">4</text>
<line x1="236.00" y1="514.88" x2="241.20" y2="514.88" stroke="#111" stroke-width="1.7"/>
<text x="233.30" y="518.28" font-size="9.5" text-anchor="end" fill="#1a1a1a">6</text>
<line x1="236.00" y1="491.74" x2="241.20" y2="491.74" stroke="#111" stroke-width="1.7"/>
<text x="233.30" y="495.14" font-size="9.5" text-anchor="end" fill="#1a1a1a">8</text>
<line x1="236.00" y1="468.60" x2="241.20" y2="468.60" stroke="#111" stroke-width="1.7"/>
<text x="233.30" y="472.00" font-size="9.5" text-anchor="end" fill="#1a1a1a">10</text>
<line x1="240.30" y1="584.30" x2="358.00" y2="584.30" stroke="#111" stroke-width="1.9"/>
<line x1="273.10" y1="584.30" x2="273.10" y2="588.90" stroke="#111" stroke-width="1.7"/>
<text x="273.10" y="601.80" font-size="9.5" text-anchor="middle" fill="#1a1a1a">10</text>
<line x1="306.60" y1="584.30" x2="306.60" y2="588.90" stroke="#111" stroke-width="1.7"/>
<text x="306.60" y="601.80" font-size="9.5" text-anchor="middle" fill="#1a1a1a">20</text>
<line x1="340.10" y1="584.30" x2="340.10" y2="588.90" stroke="#111" stroke-width="1.7"/>
<text x="340.10" y="601.80" font-size="9.5" text-anchor="middle" fill="#1a1a1a">30</text>
<text x="248.70" y="562.50" font-size="9.5" font-style="italic" fill="#1a1a1a">FR</text>
<text x="274.80" y="522.20" font-size="9.5" font-style="italic" fill="#1a1a1a">RI</text>
<text x="321.80" y="508.80" font-size="9.5" font-style="italic" fill="#1a1a1a">RR</text>
<path d="M315.90,572.20 L322.50,572.20 L319.20,565.40 Z" fill="#111"/>
<text x="321.00" y="581.40" font-size="9.5" text-anchor="end" font-style="italic" fill="#1a1a1a">test 1</text>
<path d="M356.00,572.20 L362.60,572.20 L359.30,565.40 Z" fill="#111"/>
<text x="361.20" y="581.40" font-size="9.5" text-anchor="end" font-style="italic" fill="#1a1a1a">test 2</text>
<text x="0" y="0" font-size="9.5" text-anchor="middle" fill="#1a1a1a" transform="translate(223.20,528.20) rotate(-90)">responses / min</text>
<text x="299.80" y="613.60" font-size="9.4" text-anchor="middle" fill="#1a1a1a">session (day)</text>
<ellipse cx="249.30" cy="450.90" rx="4.6" ry="4.2" fill="#111"/>
<ellipse cx="249.30" cy="461.90" rx="4.6" ry="4.2" fill="#3fd42a"/>
<text x="255.90" y="454.20" font-size="9.5" font-style="italic" fill="#1a1a1a">ctrl</text>
<text x="255.90" y="465.20" font-size="9.5" font-style="italic" fill="#1a1a1a">Gi</text>
<rect x="409.30" y="257.57" width="13.60" height="63.73" fill="#333333" stroke="#222" stroke-width="0.6"/>
<rect x="424.30" y="287.92" width="13.00" height="33.38" fill="#9b9b9f" stroke="#222" stroke-width="0.6"/>
<rect x="445.10" y="277.92" width="13.40" height="43.38" fill="#3a8f99" stroke="#222" stroke-width="0.6"/>
<rect x="459.90" y="285.36" width="13.60" height="35.94" fill="#c9e1f6" stroke="#222" stroke-width="0.6"/>
<line x1="416.10" y1="215.47" x2="430.80" y2="242.22" stroke="#6a6a6a" stroke-width="0.5"/>
<line x1="416.10" y1="220.12" x2="430.80" y2="286.41" stroke="#6a6a6a" stroke-width="0.5"/>
<line x1="416.10" y1="242.22" x2="430.80" y2="280.60" stroke="#6a6a6a" stroke-width="0.5"/>
<line x1="416.10" y1="246.87" x2="430.80" y2="306.18" stroke="#6a6a6a" stroke-width="0.5"/>
<line x1="416.10" y1="257.34" x2="430.80" y2="261.99" stroke="#6a6a6a" stroke-width="0.5"/>
<line x1="416.10" y1="286.41" x2="430.80" y2="305.02" stroke="#6a6a6a" stroke-width="0.5"/>
<line x1="416.10" y1="293.39" x2="430.80" y2="309.67" stroke="#6a6a6a" stroke-width="0.5"/>
<line x1="416.10" y1="251.52" x2="430.80" y2="298.04" stroke="#6a6a6a" stroke-width="0.5"/>
<line x1="416.10" y1="268.97" x2="430.80" y2="292.23" stroke="#6a6a6a" stroke-width="0.5"/>
<line x1="451.80" y1="238.73" x2="466.70" y2="275.36" stroke="#6a6a6a" stroke-width="0.5"/>
<line x1="451.80" y1="245.71" x2="466.70" y2="263.15" stroke="#6a6a6a" stroke-width="0.5"/>
<line x1="451.80" y1="257.34" x2="466.70" y2="286.41" stroke="#6a6a6a" stroke-width="0.5"/>
<line x1="451.80" y1="281.76" x2="466.70" y2="267.80" stroke="#6a6a6a" stroke-width="0.5"/>
<line x1="451.80" y1="295.71" x2="466.70" y2="294.55" stroke="#6a6a6a" stroke-width="0.5"/>
<line x1="451.80" y1="302.69" x2="466.70" y2="302.69" stroke="#6a6a6a" stroke-width="0.5"/>
<line x1="451.80" y1="284.08" x2="466.70" y2="317.81" stroke="#6a6a6a" stroke-width="0.5"/>
<line x1="451.80" y1="274.78" x2="466.70" y2="294.55" stroke="#6a6a6a" stroke-width="0.5"/>
<line x1="402.60" y1="204.10" x2="402.60" y2="322.20" stroke="#111" stroke-width="1.9"/>
<line x1="397.40" y1="321.30" x2="402.60" y2="321.30" stroke="#111" stroke-width="1.7"/>
<text x="394.70" y="324.70" font-size="9.5" text-anchor="end" fill="#1a1a1a">0</text>
<line x1="397.40" y1="298.04" x2="402.60" y2="298.04" stroke="#111" stroke-width="1.7"/>
<text x="394.70" y="301.44" font-size="9.5" text-anchor="end" fill="#1a1a1a">2</text>
<line x1="397.40" y1="274.78" x2="402.60" y2="274.78" stroke="#111" stroke-width="1.7"/>
<text x="394.70" y="278.18" font-size="9.5" text-anchor="end" fill="#1a1a1a">4</text>
<line x1="397.40" y1="251.52" x2="402.60" y2="251.52" stroke="#111" stroke-width="1.7"/>
<text x="394.70" y="254.92" font-size="9.5" text-anchor="end" fill="#1a1a1a">6</text>
<line x1="397.40" y1="228.26" x2="402.60" y2="228.26" stroke="#111" stroke-width="1.7"/>
<text x="394.70" y="231.66" font-size="9.5" text-anchor="end" fill="#1a1a1a">8</text>
<line x1="397.40" y1="205.00" x2="402.60" y2="205.00" stroke="#111" stroke-width="1.7"/>
<text x="394.70" y="208.40" font-size="9.5" text-anchor="end" fill="#1a1a1a">10</text>
<line x1="401.70" y1="321.30" x2="479.30" y2="321.30" stroke="#111" stroke-width="1.9"/>
<text x="423.00" y="334.10" font-size="9.5" text-anchor="middle" fill="#1a1a1a">ctrl</text>
<text x="459.30" y="334.10" font-size="9.5" text-anchor="middle" fill="#1a1a1a">Gi</text>
<rect x="404.80" y="178.50" width="6.80" height="5.90" fill="#111" stroke="none" stroke-width="1"/>
<rect x="413.80" y="178.50" width="6.80" height="5.90" fill="#3a8f99" stroke="none" stroke-width="1"/>
<rect x="404.80" y="187.10" width="6.80" height="5.90" fill="#9b9b9f" stroke="none" stroke-width="1"/>
<rect x="413.80" y="187.10" width="6.80" height="5.90" fill="#c9e1f6" stroke="none" stroke-width="1"/>
<text x="422.40" y="184.40" font-size="9.3" font-style="italic" fill="#1a1a1a">reinf</text>
<text x="422.40" y="193.00" font-size="9.3" font-style="italic" fill="#1a1a1a">non-reinf</text>
<line x1="416.50" y1="215.30" x2="430.10" y2="215.30" stroke="#111" stroke-width="2.2"/>
<text x="422.50" y="210.10" font-size="11.5" text-anchor="middle" font-weight="bold" fill="#111">*</text>
<line x1="452.40" y1="215.30" x2="466.30" y2="215.30" stroke="#111" stroke-width="2.2"/>
<text x="459.35" y="207.00" font-size="9.8" text-anchor="middle" fill="#1a1a1a">ns</text>
<text x="0" y="0" font-size="9.5" text-anchor="middle" fill="#1a1a1a" transform="translate(385.20,265.30) rotate(-90)">responses / min</text>
<rect x="512.80" y="275.25" width="13.60" height="46.05" fill="#333333" stroke="#222" stroke-width="0.6"/>
<rect x="527.30" y="274.55" width="13.60" height="46.75" fill="#9b9b9f" stroke="#222" stroke-width="0.6"/>
<rect x="549.00" y="267.80" width="13.60" height="53.50" fill="#3a8f99" stroke="#222" stroke-width="0.6"/>
<rect x="563.20" y="278.85" width="13.90" height="42.45" fill="#c9e1f6" stroke="#222" stroke-width="0.6"/>
<line x1="519.60" y1="233.38" x2="534.10" y2="261.64" stroke="#6a6a6a" stroke-width="0.5"/>
<line x1="519.60" y1="261.99" x2="534.10" y2="247.45" stroke="#6a6a6a" stroke-width="0.5"/>
<line x1="519.60" y1="265.48" x2="534.10" y2="277.11" stroke="#6a6a6a" stroke-width="0.5"/>
<line x1="519.60" y1="280.60" x2="534.10" y2="268.97" stroke="#6a6a6a" stroke-width="0.5"/>
<line x1="519.60" y1="288.74" x2="534.10" y2="263.15" stroke="#6a6a6a" stroke-width="0.5"/>
<line x1="519.60" y1="295.71" x2="534.10" y2="286.41" stroke="#6a6a6a" stroke-width="0.5"/>
<line x1="519.60" y1="303.86" x2="534.10" y2="292.23" stroke="#6a6a6a" stroke-width="0.5"/>
<line x1="519.60" y1="274.78" x2="534.10" y2="279.43" stroke="#6a6a6a" stroke-width="0.5"/>
<line x1="555.80" y1="239.89" x2="570.20" y2="298.04" stroke="#6a6a6a" stroke-width="0.5"/>
<line x1="555.80" y1="250.36" x2="570.20" y2="260.82" stroke="#6a6a6a" stroke-width="0.5"/>
<line x1="555.80" y1="259.66" x2="570.20" y2="256.17" stroke="#6a6a6a" stroke-width="0.5"/>
<line x1="555.80" y1="268.97" x2="570.20" y2="288.74" stroke="#6a6a6a" stroke-width="0.5"/>
<line x1="555.80" y1="274.78" x2="570.20" y2="272.45" stroke="#6a6a6a" stroke-width="0.5"/>
<line x1="555.80" y1="284.08" x2="570.20" y2="300.37" stroke="#6a6a6a" stroke-width="0.5"/>
<line x1="555.80" y1="291.06" x2="570.20" y2="280.60" stroke="#6a6a6a" stroke-width="0.5"/>
<line x1="555.80" y1="298.04" x2="570.20" y2="270.13" stroke="#6a6a6a" stroke-width="0.5"/>
<line x1="507.00" y1="204.10" x2="507.00" y2="322.20" stroke="#111" stroke-width="1.9"/>
<line x1="501.80" y1="321.30" x2="507.00" y2="321.30" stroke="#111" stroke-width="1.7"/>
<text x="499.10" y="324.70" font-size="9.5" text-anchor="end" fill="#1a1a1a">0</text>
<line x1="501.80" y1="298.04" x2="507.00" y2="298.04" stroke="#111" stroke-width="1.7"/>
<text x="499.10" y="301.44" font-size="9.5" text-anchor="end" fill="#1a1a1a">2</text>
<line x1="501.80" y1="274.78" x2="507.00" y2="274.78" stroke="#111" stroke-width="1.7"/>
<text x="499.10" y="278.18" font-size="9.5" text-anchor="end" fill="#1a1a1a">4</text>
<line x1="501.80" y1="251.52" x2="507.00" y2="251.52" stroke="#111" stroke-width="1.7"/>
<text x="499.10" y="254.92" font-size="9.5" text-anchor="end" fill="#1a1a1a">6</text>
<line x1="501.80" y1="228.26" x2="507.00" y2="228.26" stroke="#111" stroke-width="1.7"/>
<text x="499.10" y="231.66" font-size="9.5" text-anchor="end" fill="#1a1a1a">8</text>
<line x1="501.80" y1="205.00" x2="507.00" y2="205.00" stroke="#111" stroke-width="1.7"/>
<text x="499.10" y="208.40" font-size="9.5" text-anchor="end" fill="#1a1a1a">10</text>
<line x1="506.10" y1="321.30" x2="580.00" y2="321.30" stroke="#111" stroke-width="1.9"/>
<text x="527.30" y="334.10" font-size="9.5" text-anchor="middle" fill="#1a1a1a">ctrl</text>
<text x="563.50" y="334.10" font-size="9.5" text-anchor="middle" fill="#1a1a1a">Gi</text>
<rect x="511.90" y="178.80" width="6.80" height="5.90" fill="#111" stroke="none" stroke-width="1"/>
<rect x="520.90" y="178.80" width="6.80" height="5.90" fill="#3a8f99" stroke="none" stroke-width="1"/>
<rect x="511.90" y="187.40" width="6.80" height="5.90" fill="#9b9b9f" stroke="none" stroke-width="1"/>
<rect x="520.90" y="187.40" width="6.80" height="5.90" fill="#c9e1f6" stroke="none" stroke-width="1"/>
<text x="529.50" y="184.70" font-size="9.3" font-style="italic" fill="#1a1a1a">reinf</text>
<text x="529.50" y="193.30" font-size="9.3" font-style="italic" fill="#1a1a1a">non-reinf</text>
<line x1="571.00" y1="178.00" x2="571.00" y2="192.60" stroke="#111" stroke-width="1.6"/>
<text x="573.40" y="188.80" font-size="9.3" fill="#1a1a1a">ns</text>
<text x="0" y="0" font-size="9.5" text-anchor="middle" fill="#1a1a1a" transform="translate(487.90,266.00) rotate(-90)">responses / min</text>
<rect x="406.20" y="544.29" width="13.70" height="42.71" fill="#333333" stroke="#222" stroke-width="0.6"/>
<rect x="420.80" y="547.91" width="13.70" height="39.09" fill="#9b9b9f" stroke="#222" stroke-width="0.6"/>
<rect x="442.10" y="537.99" width="13.80" height="49.01" fill="#44e420" stroke="#222" stroke-width="0.6"/>
<rect x="457.10" y="547.91" width="13.70" height="39.09" fill="#b5e8b0" stroke="#222" stroke-width="0.6"/>
<line x1="413.00" y1="511.14" x2="427.60" y2="542.65" stroke="#6a6a6a" stroke-width="0.5"/>
<line x1="413.00" y1="519.31" x2="427.60" y2="533.32" stroke="#6a6a6a" stroke-width="0.5"/>
<line x1="413.00" y1="537.99" x2="427.60" y2="546.15" stroke="#6a6a6a" stroke-width="0.5"/>
<line x1="413.00" y1="542.65" x2="427.60" y2="536.82" stroke="#6a6a6a" stroke-width="0.5"/>
<line x1="413.00" y1="560.16" x2="427.60" y2="568.33" stroke="#6a6a6a" stroke-width="0.5"/>
<line x1="413.00" y1="575.33" x2="427.60" y2="563.66" stroke="#6a6a6a" stroke-width="0.5"/>
<line x1="413.00" y1="584.67" x2="427.60" y2="571.83" stroke="#6a6a6a" stroke-width="0.5"/>
<line x1="413.00" y1="556.66" x2="427.60" y2="561.33" stroke="#6a6a6a" stroke-width="0.5"/>
<line x1="449.00" y1="507.64" x2="464.00" y2="551.99" stroke="#6a6a6a" stroke-width="0.5"/>
<line x1="449.00" y1="519.31" x2="464.00" y2="530.98" stroke="#6a6a6a" stroke-width="0.5"/>
<line x1="449.00" y1="525.15" x2="464.00" y2="514.65" stroke="#6a6a6a" stroke-width="0.5"/>
<line x1="449.00" y1="533.32" x2="464.00" y2="556.66" stroke="#6a6a6a" stroke-width="0.5"/>
<line x1="449.00" y1="540.32" x2="464.00" y2="534.49" stroke="#6a6a6a" stroke-width="0.5"/>
<line x1="449.00" y1="561.33" x2="464.00" y2="561.33" stroke="#6a6a6a" stroke-width="0.5"/>
<line x1="449.00" y1="578.83" x2="464.00" y2="577.66" stroke="#6a6a6a" stroke-width="0.5"/>
<line x1="449.00" y1="549.66" x2="464.00" y2="542.65" stroke="#6a6a6a" stroke-width="0.5"/>
<line x1="399.60" y1="469.40" x2="399.60" y2="587.90" stroke="#111" stroke-width="1.9"/>
<line x1="394.40" y1="587.00" x2="399.60" y2="587.00" stroke="#111" stroke-width="1.7"/>
<text x="391.70" y="590.40" font-size="9.5" text-anchor="end" fill="#1a1a1a">0</text>
<line x1="394.40" y1="563.66" x2="399.60" y2="563.66" stroke="#111" stroke-width="1.7"/>
<text x="391.70" y="567.06" font-size="9.5" text-anchor="end" fill="#1a1a1a">2</text>
<line x1="394.40" y1="540.32" x2="399.60" y2="540.32" stroke="#111" stroke-width="1.7"/>
<text x="391.70" y="543.72" font-size="9.5" text-anchor="end" fill="#1a1a1a">4</text>
<line x1="394.40" y1="516.98" x2="399.60" y2="516.98" stroke="#111" stroke-width="1.7"/>
<text x="391.70" y="520.38" font-size="9.5" text-anchor="end" fill="#1a1a1a">6</text>
<line x1="394.40" y1="493.64" x2="399.60" y2="493.64" stroke="#111" stroke-width="1.7"/>
<text x="391.70" y="497.04" font-size="9.5" text-anchor="end" fill="#1a1a1a">8</text>
<line x1="394.40" y1="470.30" x2="399.60" y2="470.30" stroke="#111" stroke-width="1.7"/>
<text x="391.70" y="473.70" font-size="9.5" text-anchor="end" fill="#1a1a1a">10</text>
<line x1="398.70" y1="587.00" x2="477.80" y2="587.00" stroke="#111" stroke-width="1.9"/>
<text x="420.00" y="599.80" font-size="9.5" text-anchor="middle" fill="#1a1a1a">ctrl</text>
<text x="456.30" y="599.80" font-size="9.5" text-anchor="middle" fill="#1a1a1a">Gi</text>
<rect x="404.00" y="452.00" width="6.80" height="5.90" fill="#111" stroke="none" stroke-width="1"/>
<rect x="413.00" y="452.00" width="6.80" height="5.90" fill="#44e420" stroke="none" stroke-width="1"/>
<rect x="404.00" y="460.60" width="6.80" height="5.90" fill="#9b9b9f" stroke="none" stroke-width="1"/>
<rect x="413.00" y="460.60" width="6.80" height="5.90" fill="#b5e8b0" stroke="none" stroke-width="1"/>
<text x="421.60" y="457.90" font-size="9.3" font-style="italic" fill="#1a1a1a">reinf</text>
<text x="421.60" y="466.50" font-size="9.3" font-style="italic" fill="#1a1a1a">non-reinf</text>
<line x1="463.30" y1="450.50" x2="463.30" y2="465.70" stroke="#111" stroke-width="1.6"/>
<text x="465.70" y="461.30" font-size="9.3" fill="#1a1a1a">ns</text>
<text x="0" y="0" font-size="9.5" text-anchor="middle" fill="#1a1a1a" transform="translate(382.60,529.90) rotate(-90)">responses / min</text>
<rect x="514.20" y="533.46" width="13.70" height="52.94" fill="#333333" stroke="#222" stroke-width="0.6"/>
<rect x="528.80" y="547.27" width="13.50" height="39.13" fill="#9b9b9f" stroke="#222" stroke-width="0.6"/>
<rect x="550.20" y="534.39" width="13.40" height="52.01" fill="#44e420" stroke="#222" stroke-width="0.6"/>
<rect x="564.50" y="550.41" width="13.70" height="35.99" fill="#b5e8b0" stroke="#222" stroke-width="0.6"/>
<line x1="521.00" y1="486.55" x2="535.50" y2="559.70" stroke="#6a6a6a" stroke-width="0.5"/>
<line x1="521.00" y1="500.49" x2="535.50" y2="528.35" stroke="#6a6a6a" stroke-width="0.5"/>
<line x1="521.00" y1="516.74" x2="535.50" y2="549.25" stroke="#6a6a6a" stroke-width="0.5"/>
<line x1="521.00" y1="524.87" x2="535.50" y2="514.42" stroke="#6a6a6a" stroke-width="0.5"/>
<line x1="521.00" y1="537.64" x2="535.50" y2="557.38" stroke="#6a6a6a" stroke-width="0.5"/>
<line x1="521.00" y1="544.60" x2="535.50" y2="537.64" stroke="#6a6a6a" stroke-width="0.5"/>
<line x1="521.00" y1="566.66" x2="535.50" y2="566.66" stroke="#6a6a6a" stroke-width="0.5"/>
<line x1="521.00" y1="551.57" x2="535.50" y2="563.18" stroke="#6a6a6a" stroke-width="0.5"/>
<line x1="557.00" y1="505.13" x2="571.30" y2="574.79" stroke="#6a6a6a" stroke-width="0.5"/>
<line x1="557.00" y1="514.42" x2="571.30" y2="537.64" stroke="#6a6a6a" stroke-width="0.5"/>
<line x1="557.00" y1="528.35" x2="571.30" y2="516.74" stroke="#6a6a6a" stroke-width="0.5"/>
<line x1="557.00" y1="535.32" x2="571.30" y2="555.05" stroke="#6a6a6a" stroke-width="0.5"/>
<line x1="557.00" y1="544.60" x2="571.30" y2="532.99" stroke="#6a6a6a" stroke-width="0.5"/>
<line x1="557.00" y1="551.57" x2="571.30" y2="549.25" stroke="#6a6a6a" stroke-width="0.5"/>
<line x1="557.00" y1="557.38" x2="571.30" y2="542.28" stroke="#6a6a6a" stroke-width="0.5"/>
<line x1="508.10" y1="469.40" x2="508.10" y2="587.30" stroke="#111" stroke-width="1.9"/>
<line x1="502.90" y1="586.40" x2="508.10" y2="586.40" stroke="#111" stroke-width="1.7"/>
<text x="500.20" y="589.80" font-size="9.5" text-anchor="end" fill="#1a1a1a">0</text>
<line x1="502.90" y1="563.18" x2="508.10" y2="563.18" stroke="#111" stroke-width="1.7"/>
<text x="500.20" y="566.58" font-size="9.5" text-anchor="end" fill="#1a1a1a">2</text>
<line x1="502.90" y1="539.96" x2="508.10" y2="539.96" stroke="#111" stroke-width="1.7"/>
<text x="500.20" y="543.36" font-size="9.5" text-anchor="end" fill="#1a1a1a">4</text>
<line x1="502.90" y1="516.74" x2="508.10" y2="516.74" stroke="#111" stroke-width="1.7"/>
<text x="500.20" y="520.14" font-size="9.5" text-anchor="end" fill="#1a1a1a">6</text>
<line x1="502.90" y1="493.52" x2="508.10" y2="493.52" stroke="#111" stroke-width="1.7"/>
<text x="500.20" y="496.92" font-size="9.5" text-anchor="end" fill="#1a1a1a">8</text>
<line x1="502.90" y1="470.30" x2="508.10" y2="470.30" stroke="#111" stroke-width="1.7"/>
<text x="500.20" y="473.70" font-size="9.5" text-anchor="end" fill="#1a1a1a">10</text>
<line x1="507.20" y1="586.40" x2="586.00" y2="586.40" stroke="#111" stroke-width="1.9"/>
<text x="528.00" y="599.20" font-size="9.5" text-anchor="middle" fill="#1a1a1a">ctrl</text>
<text x="564.00" y="599.20" font-size="9.5" text-anchor="middle" fill="#1a1a1a">Gi</text>
<rect x="509.60" y="452.50" width="6.80" height="5.90" fill="#111" stroke="none" stroke-width="1"/>
<rect x="518.60" y="452.50" width="6.80" height="5.90" fill="#44e420" stroke="none" stroke-width="1"/>
<rect x="509.60" y="461.10" width="6.80" height="5.90" fill="#9b9b9f" stroke="none" stroke-width="1"/>
<rect x="518.60" y="461.10" width="6.80" height="5.90" fill="#b5e8b0" stroke="none" stroke-width="1"/>
<text x="527.20" y="458.40" font-size="9.3" font-style="italic" fill="#1a1a1a">reinf</text>
<text x="527.20" y="467.00" font-size="9.3" font-style="italic" fill="#1a1a1a">non-reinf</text>
<line x1="570.60" y1="450.50" x2="570.60" y2="465.70" stroke="#111" stroke-width="1.6"/>
<text x="573.50" y="464.20" font-size="11" font-weight="bold" fill="#111">*</text>
<text x="0" y="0" font-size="9.5" text-anchor="middle" fill="#1a1a1a" transform="translate(489.20,530.00) rotate(-90)">responses / min</text>
<line x1="613.40" y1="302.40" x2="677.30" y2="302.40" stroke="#111" stroke-width="1.9"/>
<line x1="635.40" y1="224.80" x2="659.50" y2="294.64" stroke="#222" stroke-width="0.55"/>
<line x1="635.40" y1="252.93" x2="659.50" y2="296.58" stroke="#222" stroke-width="0.55"/>
<line x1="635.40" y1="273.30" x2="659.50" y2="296.58" stroke="#222" stroke-width="0.55"/>
<line x1="635.40" y1="279.12" x2="659.50" y2="298.52" stroke="#222" stroke-width="0.55"/>
<line x1="635.40" y1="283.97" x2="659.50" y2="306.28" stroke="#222" stroke-width="0.55"/>
<line x1="635.40" y1="285.91" x2="659.50" y2="314.04" stroke="#222" stroke-width="0.55"/>
<line x1="635.40" y1="290.76" x2="659.50" y2="294.64" stroke="#222" stroke-width="0.55"/>
<line x1="635.40" y1="297.55" x2="659.50" y2="302.40" stroke="#222" stroke-width="0.55"/>
<line x1="635.40" y1="294.64" x2="659.50" y2="304.34" stroke="#222" stroke-width="0.55"/>
<line x1="635.40" y1="290.57" x2="659.50" y2="288.63" stroke="#45b0bc" stroke-width="0.7"/>
<line x1="635.40" y1="314.04" x2="659.50" y2="302.40" stroke="#45b0bc" stroke-width="0.7"/>
<line x1="635.40" y1="311.13" x2="659.50" y2="298.52" stroke="#45b0bc" stroke-width="0.7"/>
<line x1="635.40" y1="293.48" x2="659.50" y2="300.46" stroke="#45b0bc" stroke-width="0.7"/>
<line x1="635.40" y1="287.85" x2="659.50" y2="298.52" stroke="#45b0bc" stroke-width="0.7"/>
<line x1="635.40" y1="304.34" x2="659.50" y2="303.37" stroke="#45b0bc" stroke-width="0.7"/>
<line x1="635.40" y1="300.46" x2="659.50" y2="305.31" stroke="#45b0bc" stroke-width="0.7"/>
<line x1="635.40" y1="277.18" x2="659.50" y2="300.07" stroke="#111" stroke-width="2.4" stroke-linecap="round"/>
<line x1="635.40" y1="302.40" x2="659.50" y2="301.43" stroke="#45b0bc" stroke-width="2.4" stroke-linecap="round"/>
<line x1="618.60" y1="204.50" x2="618.60" y2="322.70" stroke="#111" stroke-width="1.9"/>
<line x1="613.40" y1="321.80" x2="618.60" y2="321.80" stroke="#111" stroke-width="1.7"/>
<text x="610.70" y="325.20" font-size="9.5" text-anchor="end" fill="#1a1a1a">0</text>
<line x1="613.40" y1="302.40" x2="618.60" y2="302.40" stroke="#111" stroke-width="1.7"/>
<text x="610.70" y="305.80" font-size="9.5" text-anchor="end" fill="#1a1a1a">1</text>
<line x1="613.40" y1="283.00" x2="618.60" y2="283.00" stroke="#111" stroke-width="1.7"/>
<text x="610.70" y="286.40" font-size="9.5" text-anchor="end" fill="#1a1a1a">2</text>
<line x1="613.40" y1="263.60" x2="618.60" y2="263.60" stroke="#111" stroke-width="1.7"/>
<text x="610.70" y="267.00" font-size="9.5" text-anchor="end" fill="#1a1a1a">3</text>
<line x1="613.40" y1="244.20" x2="618.60" y2="244.20" stroke="#111" stroke-width="1.7"/>
<text x="610.70" y="247.60" font-size="9.5" text-anchor="end" fill="#1a1a1a">4</text>
<line x1="613.40" y1="224.80" x2="618.60" y2="224.80" stroke="#111" stroke-width="1.7"/>
<text x="610.70" y="228.20" font-size="9.5" text-anchor="end" fill="#1a1a1a">5</text>
<line x1="613.40" y1="205.40" x2="618.60" y2="205.40" stroke="#111" stroke-width="1.7"/>
<text x="610.70" y="208.80" font-size="9.5" text-anchor="end" fill="#1a1a1a">6</text>
<line x1="612.50" y1="321.80" x2="677.30" y2="321.80" stroke="#111" stroke-width="1.9"/>
<line x1="635.40" y1="321.80" x2="635.40" y2="329.80" stroke="#111" stroke-width="1.8"/>
<text x="0" y="0" font-size="9.3" text-anchor="end" fill="#1a1a1a" transform="translate(636.80,341.00) rotate(-45)">test 1</text>
<line x1="659.50" y1="321.80" x2="659.50" y2="329.80" stroke="#111" stroke-width="1.8"/>
<text x="0" y="0" font-size="9.3" text-anchor="end" fill="#1a1a1a" transform="translate(660.90,341.00) rotate(-45)">test 2</text>
<ellipse cx="627.50" cy="183.20" rx="4.6" ry="4.3" fill="#111"/>
<ellipse cx="627.50" cy="193.70" rx="4.6" ry="4.3" fill="#45b0bc"/>
<text x="634.50" y="186.50" font-size="9.5" font-style="italic" fill="#1a1a1a">ctrl</text>
<text x="634.50" y="197.00" font-size="9.5" font-style="italic" fill="#1a1a1a">Gi</text>
<text x="636.40" y="216.30" font-size="11" text-anchor="middle" font-weight="bold" fill="#111">*</text>
<text x="0" y="0" font-size="9.5" text-anchor="middle" fill="#1a1a1a" transform="translate(600.70,265.00) rotate(-90)">reinf / non-reinf</text>
<line x1="611.80" y1="563.60" x2="674.20" y2="563.60" stroke="#111" stroke-width="1.9"/>
<line x1="633.90" y1="586.50" x2="657.30" y2="566.81" stroke="#222" stroke-width="0.55"/>
<line x1="633.90" y1="548.94" x2="657.30" y2="563.60" stroke="#222" stroke-width="0.55"/>
<line x1="633.90" y1="559.02" x2="657.30" y2="568.18" stroke="#222" stroke-width="0.55"/>
<line x1="633.90" y1="565.89" x2="657.30" y2="563.60" stroke="#222" stroke-width="0.55"/>
<line x1="633.90" y1="568.18" x2="657.30" y2="538.41" stroke="#222" stroke-width="0.55"/>
<line x1="633.90" y1="556.73" x2="657.30" y2="572.76" stroke="#222" stroke-width="0.55"/>
<line x1="633.90" y1="563.60" x2="657.30" y2="533.83" stroke="#222" stroke-width="0.55"/>
<line x1="633.90" y1="552.15" x2="657.30" y2="552.15" stroke="#222" stroke-width="0.55"/>
<line x1="633.90" y1="563.60" x2="657.30" y2="485.74" stroke="#9be48c" stroke-width="0.7"/>
<line x1="633.90" y1="539.56" x2="657.30" y2="537.26" stroke="#9be48c" stroke-width="0.7"/>
<line x1="633.90" y1="542.99" x2="657.30" y2="552.15" stroke="#9be48c" stroke-width="0.7"/>
<line x1="633.90" y1="556.73" x2="657.30" y2="542.99" stroke="#9be48c" stroke-width="0.7"/>
<line x1="633.90" y1="568.18" x2="657.30" y2="575.05" stroke="#9be48c" stroke-width="0.7"/>
<line x1="633.90" y1="552.15" x2="657.30" y2="545.28" stroke="#9be48c" stroke-width="0.7"/>
<line x1="633.90" y1="561.31" x2="657.30" y2="559.02" stroke="#9be48c" stroke-width="0.7"/>
<line x1="633.90" y1="565.89" x2="657.30" y2="540.70" stroke="#9be48c" stroke-width="0.7"/>
<line x1="633.90" y1="547.57" x2="657.30" y2="563.60" stroke="#9be48c" stroke-width="0.7"/>
<line x1="633.90" y1="567.03" x2="657.30" y2="564.75" stroke="#9be48c" stroke-width="0.7"/>
<line x1="633.90" y1="558.56" x2="657.30" y2="553.98" stroke="#111" stroke-width="2.4" stroke-linecap="round"/>
<line x1="633.90" y1="554.90" x2="657.30" y2="546.20" stroke="#45d232" stroke-width="2.4" stroke-linecap="round"/>
<line x1="617.00" y1="471.10" x2="617.00" y2="587.40" stroke="#111" stroke-width="1.9"/>
<line x1="611.80" y1="586.50" x2="617.00" y2="586.50" stroke="#111" stroke-width="1.7"/>
<text x="609.10" y="589.90" font-size="9.5" text-anchor="end" fill="#1a1a1a">0</text>
<line x1="611.80" y1="563.60" x2="617.00" y2="563.60" stroke="#111" stroke-width="1.7"/>
<text x="609.10" y="567.00" font-size="9.5" text-anchor="end" fill="#1a1a1a">1</text>
<line x1="611.80" y1="540.70" x2="617.00" y2="540.70" stroke="#111" stroke-width="1.7"/>
<text x="609.10" y="544.10" font-size="9.5" text-anchor="end" fill="#1a1a1a">2</text>
<line x1="611.80" y1="517.80" x2="617.00" y2="517.80" stroke="#111" stroke-width="1.7"/>
<text x="609.10" y="521.20" font-size="9.5" text-anchor="end" fill="#1a1a1a">3</text>
<line x1="611.80" y1="494.90" x2="617.00" y2="494.90" stroke="#111" stroke-width="1.7"/>
<text x="609.10" y="498.30" font-size="9.5" text-anchor="end" fill="#1a1a1a">4</text>
<line x1="611.80" y1="472.00" x2="617.00" y2="472.00" stroke="#111" stroke-width="1.7"/>
<text x="609.10" y="475.40" font-size="9.5" text-anchor="end" fill="#1a1a1a">5</text>
<line x1="610.90" y1="586.50" x2="674.20" y2="586.50" stroke="#111" stroke-width="1.9"/>
<line x1="633.90" y1="586.50" x2="633.90" y2="594.50" stroke="#111" stroke-width="1.8"/>
<text x="0" y="0" font-size="9.3" text-anchor="end" fill="#1a1a1a" transform="translate(635.30,605.70) rotate(-45)">test 1</text>
<line x1="657.30" y1="586.50" x2="657.30" y2="594.50" stroke="#111" stroke-width="1.8"/>
<text x="0" y="0" font-size="9.3" text-anchor="end" fill="#1a1a1a" transform="translate(658.70,605.70) rotate(-45)">test 2</text>
<ellipse cx="626.90" cy="454.30" rx="4.6" ry="4.3" fill="#111"/>
<ellipse cx="626.90" cy="465.50" rx="4.6" ry="4.3" fill="#45d232"/>
<text x="633.90" y="457.60" font-size="9.5" font-style="italic" fill="#1a1a1a">ctrl</text>
<text x="633.90" y="468.80" font-size="9.5" font-style="italic" fill="#1a1a1a">Gi</text>
<line x1="652.20" y1="453.00" x2="652.20" y2="467.60" stroke="#111" stroke-width="1.6"/>
<text x="654.60" y="463.80" font-size="9.3" fill="#1a1a1a">ns</text>
<text x="0" y="0" font-size="9.5" text-anchor="middle" fill="#1a1a1a" transform="translate(598.60,529.80) rotate(-90)">reinf / non-reinf</text>
</svg></body></html>
